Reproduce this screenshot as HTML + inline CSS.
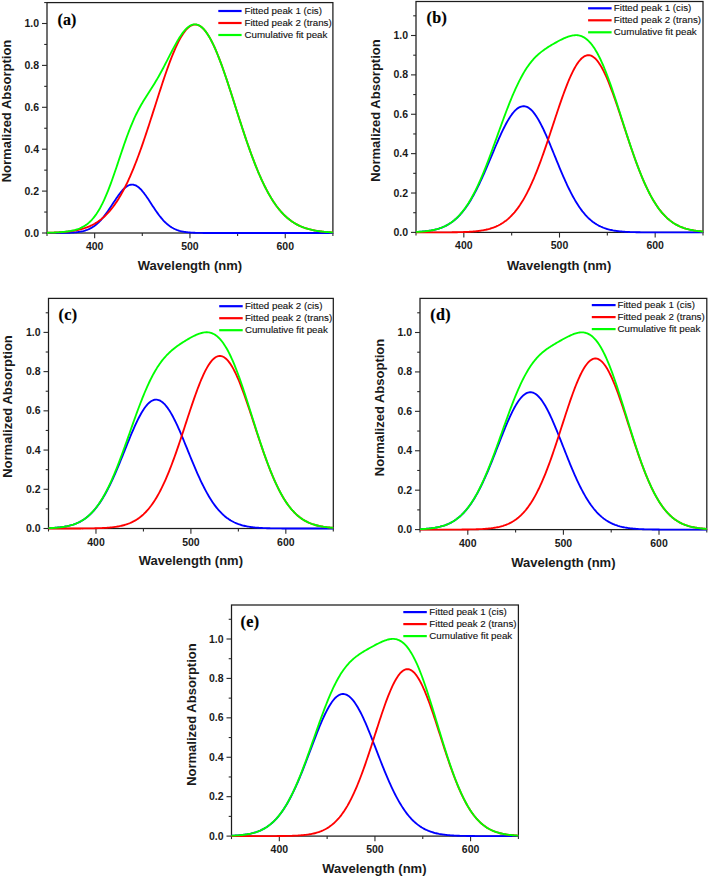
<!DOCTYPE html>
<html><head><meta charset="utf-8"><title>Fitted absorption peaks</title>
<style>
html,body{margin:0;padding:0;background:#fff;}
svg{display:block;}
.tk{font-family:"Liberation Sans",sans-serif;font-weight:bold;font-size:10.5px;fill:#1a1a1a;}
.ti{font-family:"Liberation Sans",sans-serif;font-weight:bold;font-size:13px;fill:#1a1a1a;}
.lg{font-family:"Liberation Sans",sans-serif;font-size:9.75px;fill:#111;stroke:#111;stroke-width:0.12px;}
.pl{font-family:"Liberation Serif",serif;font-weight:bold;font-size:16px;fill:#000;stroke:#000;stroke-width:0.15px;}
.pl2{letter-spacing:0.4px;stroke-width:0.2px;}
</style></head><body>
<svg width="708" height="877" viewBox="0 0 708 877">
<rect width="708" height="877" fill="#fff"/>
<rect x="47" y="2.6" width="285.9" height="230.4" fill="none" stroke="#1c1c1c" stroke-width="1.25"/>
<line x1="42" y1="233" x2="47" y2="233" stroke="#2a2a2a" stroke-width="1.1"/>
<text x="39.1" y="236.5" class="tk" text-anchor="end">0.0</text>
<line x1="44.2" y1="212.05" x2="47" y2="212.05" stroke="#2a2a2a" stroke-width="1.1"/>
<line x1="42" y1="191.1" x2="47" y2="191.1" stroke="#2a2a2a" stroke-width="1.1"/>
<text x="39.1" y="194.6" class="tk" text-anchor="end">0.2</text>
<line x1="44.2" y1="170.15" x2="47" y2="170.15" stroke="#2a2a2a" stroke-width="1.1"/>
<line x1="42" y1="149.2" x2="47" y2="149.2" stroke="#2a2a2a" stroke-width="1.1"/>
<text x="39.1" y="152.7" class="tk" text-anchor="end">0.4</text>
<line x1="44.2" y1="128.25" x2="47" y2="128.25" stroke="#2a2a2a" stroke-width="1.1"/>
<line x1="42" y1="107.3" x2="47" y2="107.3" stroke="#2a2a2a" stroke-width="1.1"/>
<text x="39.1" y="110.8" class="tk" text-anchor="end">0.6</text>
<line x1="44.2" y1="86.35" x2="47" y2="86.35" stroke="#2a2a2a" stroke-width="1.1"/>
<line x1="42" y1="65.4" x2="47" y2="65.4" stroke="#2a2a2a" stroke-width="1.1"/>
<text x="39.1" y="68.9" class="tk" text-anchor="end">0.8</text>
<line x1="44.2" y1="44.45" x2="47" y2="44.45" stroke="#2a2a2a" stroke-width="1.1"/>
<line x1="42" y1="23.5" x2="47" y2="23.5" stroke="#2a2a2a" stroke-width="1.1"/>
<text x="39.1" y="27" class="tk" text-anchor="end">1.0</text>
<line x1="44.2" y1="2.55" x2="47" y2="2.55" stroke="#2a2a2a" stroke-width="1.1"/>
<line x1="47" y1="233" x2="47" y2="236" stroke="#2a2a2a" stroke-width="1.1"/>
<line x1="94.65" y1="233" x2="94.65" y2="238.2" stroke="#2a2a2a" stroke-width="1.1"/>
<text x="94.65" y="250" class="tk" text-anchor="middle">400</text>
<line x1="142.3" y1="233" x2="142.3" y2="236" stroke="#2a2a2a" stroke-width="1.1"/>
<line x1="189.95" y1="233" x2="189.95" y2="238.2" stroke="#2a2a2a" stroke-width="1.1"/>
<text x="189.95" y="250" class="tk" text-anchor="middle">500</text>
<line x1="237.6" y1="233" x2="237.6" y2="236" stroke="#2a2a2a" stroke-width="1.1"/>
<line x1="285.25" y1="233" x2="285.25" y2="238.2" stroke="#2a2a2a" stroke-width="1.1"/>
<text x="285.25" y="250" class="tk" text-anchor="middle">600</text>
<line x1="332.9" y1="233" x2="332.9" y2="236" stroke="#2a2a2a" stroke-width="1.1"/>
<text x="189.95" y="269.7" class="ti" text-anchor="middle">Wavelength (nm)</text>
<text transform="translate(10.9,111) rotate(-90)" class="ti" text-anchor="middle">Normalized Absorption</text>
<polyline points="47,233 47.95,233 48.91,233 49.86,232.99 50.81,232.99 51.77,232.99 52.72,232.99 53.67,232.99 54.62,232.99 55.58,232.98 56.53,232.98 57.48,232.97 58.44,232.97 59.39,232.96 60.34,232.95 61.3,232.94 62.25,232.93 63.2,232.92 64.15,232.9 65.11,232.89 66.06,232.87 67.01,232.84 67.97,232.81 68.92,232.78 69.87,232.74 70.83,232.69 71.78,232.64 72.73,232.58 73.68,232.52 74.64,232.44 75.59,232.35 76.54,232.25 77.5,232.13 78.45,232 79.4,231.86 80.35,231.69 81.31,231.51 82.26,231.31 83.21,231.08 84.17,230.82 85.12,230.54 86.07,230.22 87.03,229.88 87.98,229.5 88.93,229.08 89.88,228.63 90.84,228.14 91.79,227.6 92.74,227.01 93.7,226.39 94.65,225.71 95.6,224.98 96.56,224.2 97.51,223.37 98.46,222.49 99.41,221.55 100.37,220.56 101.32,219.52 102.27,218.43 103.23,217.29 104.18,216.1 105.13,214.86 106.09,213.58 107.04,212.27 107.99,210.91 108.94,209.53 109.9,208.12 110.85,206.69 111.8,205.24 112.76,203.79 113.71,202.34 114.66,200.89 115.62,199.46 116.57,198.05 117.52,196.67 118.47,195.33 119.43,194.04 120.38,192.79 121.33,191.61 122.29,190.5 123.24,189.47 124.19,188.52 125.15,187.66 126.1,186.9 127.05,186.24 128,185.69 128.96,185.25 129.91,184.92 130.86,184.71 131.82,184.61 132.77,184.64 133.72,184.78 134.68,185.04 135.63,185.43 136.58,185.92 137.53,186.53 138.49,187.25 139.44,188.06 140.39,188.97 141.35,189.98 142.3,191.06 143.25,192.22 144.21,193.44 145.16,194.73 146.11,196.06 147.06,197.44 148.02,198.85 148.97,200.29 149.92,201.74 150.88,203.21 151.83,204.67 152.78,206.14 153.74,207.59 154.69,209.02 155.64,210.43 156.59,211.8 157.55,213.15 158.5,214.45 159.45,215.72 160.41,216.93 161.36,218.1 162.31,219.22 163.27,220.29 164.22,221.3 165.17,222.26 166.12,223.16 167.08,224.01 168.03,224.81 168.98,225.56 169.94,226.25 170.89,226.9 171.84,227.49 172.8,228.05 173.75,228.55 174.7,229.02 175.66,229.44 176.61,229.83 177.56,230.18 178.51,230.5 179.47,230.79 180.42,231.05 181.37,231.29 182.33,231.5 183.28,231.68 184.23,231.85 185.19,232 186.14,232.13 187.09,232.25 188.04,232.35 189,232.44 189.95,232.52 190.9,232.58 191.86,232.64 192.81,232.7 193.76,232.74 194.72,232.78 195.67,232.81 196.62,232.84 197.57,232.87 198.53,232.89 199.48,232.91 200.43,232.92 201.39,232.93 202.34,232.95 203.29,232.95 204.25,232.96 205.2,232.97 206.15,232.97 207.1,232.98 208.06,232.98 209.01,232.99 209.96,232.99 210.92,232.99 211.87,232.99 212.82,232.99 213.78,233 214.73,233 215.68,233 216.63,233 217.59,233 218.54,233 219.49,233 220.45,233 221.4,233 222.35,233 223.3,233 224.26,233 225.21,233 226.16,233 227.12,233 228.07,233 229.02,233 229.98,233 230.93,233 231.88,233 232.83,233 233.79,233 234.74,233 235.69,233 236.65,233 237.6,233 238.55,233 239.51,233 240.46,233 241.41,233 242.36,233 243.32,233 244.27,233 245.22,233 246.18,233 247.13,233 248.08,233 249.04,233 249.99,233 250.94,233 251.89,233 252.85,233 253.8,233 254.75,233 255.71,233 256.66,233 257.61,233 258.57,233 259.52,233 260.47,233 261.42,233 262.38,233 263.33,233 264.28,233 265.24,233 266.19,233 267.14,233 268.1,233 269.05,233 270,233 270.95,233 271.91,233 272.86,233 273.81,233 274.77,233 275.72,233 276.67,233 277.63,233 278.58,233 279.53,233 280.49,233 281.44,233 282.39,233 283.34,233 284.3,233 285.25,233 286.2,233 287.16,233 288.11,233 289.06,233 290.01,233 290.97,233 291.92,233 292.87,233 293.83,233 294.78,233 295.73,233 296.69,233 297.64,233 298.59,233 299.54,233 300.5,233 301.45,233 302.4,233 303.36,233 304.31,233 305.26,233 306.22,233 307.17,233 308.12,233 309.07,233 310.03,233 310.98,233 311.93,233 312.89,233 313.84,233 314.79,233 315.75,233 316.7,233 317.65,233 318.6,233 319.56,233 320.51,233 321.46,233 322.42,233 323.37,233 324.32,233 325.28,233 326.23,233 327.18,233 328.13,233 329.09,233 330.04,233 330.99,233 331.95,233 332.9,233" fill="none" stroke="#0000ff" stroke-width="1.85" stroke-linejoin="round"/>
<polyline points="47,232.76 47.95,232.74 48.91,232.71 49.86,232.69 50.81,232.66 51.77,232.63 52.72,232.6 53.67,232.56 54.62,232.52 55.58,232.48 56.53,232.44 57.48,232.39 58.44,232.34 59.39,232.28 60.34,232.23 61.3,232.16 62.25,232.09 63.2,232.02 64.15,231.94 65.11,231.86 66.06,231.77 67.01,231.67 67.97,231.57 68.92,231.46 69.87,231.34 70.83,231.21 71.78,231.08 72.73,230.93 73.68,230.78 74.64,230.62 75.59,230.44 76.54,230.26 77.5,230.06 78.45,229.85 79.4,229.63 80.35,229.4 81.31,229.15 82.26,228.88 83.21,228.6 84.17,228.3 85.12,227.99 86.07,227.65 87.03,227.3 87.98,226.93 88.93,226.54 89.88,226.13 90.84,225.69 91.79,225.23 92.74,224.75 93.7,224.24 94.65,223.71 95.6,223.14 96.56,222.55 97.51,221.93 98.46,221.29 99.41,220.61 100.37,219.89 101.32,219.15 102.27,218.37 103.23,217.55 104.18,216.7 105.13,215.81 106.09,214.88 107.04,213.92 107.99,212.91 108.94,211.86 109.9,210.77 110.85,209.64 111.8,208.46 112.76,207.24 113.71,205.97 114.66,204.66 115.62,203.29 116.57,201.88 117.52,200.42 118.47,198.91 119.43,197.36 120.38,195.75 121.33,194.09 122.29,192.38 123.24,190.61 124.19,188.8 125.15,186.93 126.1,185.01 127.05,183.04 128,181.02 128.96,178.95 129.91,176.82 130.86,174.65 131.82,172.42 132.77,170.14 133.72,167.82 134.68,165.45 135.63,163.02 136.58,160.56 137.53,158.04 138.49,155.49 139.44,152.89 140.39,150.25 141.35,147.57 142.3,144.86 143.25,142.11 144.21,139.32 145.16,136.5 146.11,133.66 147.06,130.79 148.02,127.89 148.97,124.97 149.92,122.03 150.88,119.08 151.83,116.11 152.78,113.14 153.74,110.15 154.69,107.16 155.64,104.18 156.59,101.19 157.55,98.21 158.5,95.24 159.45,92.28 160.41,89.34 161.36,86.42 162.31,83.53 163.27,80.66 164.22,77.83 165.17,75.03 166.12,72.26 167.08,69.55 168.03,66.88 168.98,64.26 169.94,61.69 170.89,59.18 171.84,56.74 172.8,54.36 173.75,52.05 174.7,49.81 175.66,47.64 176.61,45.56 177.56,43.56 178.51,41.64 179.47,39.82 180.42,38.08 181.37,36.44 182.33,34.9 183.28,33.45 184.23,32.11 185.19,30.87 186.14,29.74 187.09,28.71 188.04,27.8 189,26.99 189.95,26.3 190.9,25.72 191.86,25.26 192.81,24.91 193.76,24.68 194.72,24.56 195.67,24.56 196.62,24.68 197.57,24.91 198.53,25.26 199.48,25.73 200.43,26.31 201.39,27.01 202.34,27.81 203.29,28.73 204.25,29.76 205.2,30.9 206.15,32.15 207.1,33.49 208.06,34.95 209.01,36.5 209.96,38.14 210.92,39.89 211.87,41.72 212.82,43.65 213.78,45.66 214.73,47.75 215.68,49.92 216.63,52.17 217.59,54.49 218.54,56.88 219.49,59.33 220.45,61.85 221.4,64.42 222.35,67.05 223.3,69.74 224.26,72.46 225.21,75.23 226.16,78.04 227.12,80.89 228.07,83.76 229.02,86.67 229.98,89.6 230.93,92.55 231.88,95.51 232.83,98.49 233.79,101.48 234.74,104.47 235.69,107.47 236.65,110.46 237.6,113.45 238.55,116.43 239.51,119.41 240.46,122.37 241.41,125.31 242.36,128.23 243.32,131.13 244.27,134.01 245.22,136.86 246.18,139.68 247.13,142.46 248.08,145.22 249.04,147.93 249.99,150.61 250.94,153.25 251.89,155.85 252.85,158.41 253.8,160.92 254.75,163.39 255.71,165.81 256.66,168.18 257.61,170.5 258.57,172.77 259.52,175 260.47,177.17 261.42,179.29 262.38,181.36 263.33,183.38 264.28,185.35 265.24,187.26 266.19,189.12 267.14,190.93 268.1,192.69 269.05,194.4 270,196.05 270.95,197.65 271.91,199.21 272.86,200.71 273.81,202.16 274.77,203.57 275.72,204.92 276.67,206.23 277.63,207.49 278.58,208.71 279.53,209.88 280.49,211.01 281.44,212.09 282.39,213.13 283.34,214.13 284.3,215.09 285.25,216.01 286.2,216.9 287.16,217.74 288.11,218.55 289.06,219.32 290.01,220.06 290.97,220.77 291.92,221.44 292.87,222.09 293.83,222.7 294.78,223.28 295.73,223.84 296.69,224.37 297.64,224.87 298.59,225.35 299.54,225.81 300.5,226.24 301.45,226.65 302.4,227.03 303.36,227.4 304.31,227.75 305.26,228.08 306.22,228.39 307.17,228.68 308.12,228.96 309.07,229.22 310.03,229.46 310.98,229.7 311.93,229.92 312.89,230.12 313.84,230.31 314.79,230.5 315.75,230.67 316.7,230.83 317.65,230.98 318.6,231.12 319.56,231.25 320.51,231.38 321.46,231.49 322.42,231.6 323.37,231.7 324.32,231.8 325.28,231.89 326.23,231.97 327.18,232.04 328.13,232.12 329.09,232.18 330.04,232.25 330.99,232.3 331.95,232.36 332.9,232.41" fill="none" stroke="#ff0000" stroke-width="1.85" stroke-linejoin="round"/>
<polyline points="47,232.75 47.95,232.73 48.91,232.71 49.86,232.68 50.81,232.65 51.77,232.62 52.72,232.59 53.67,232.55 54.62,232.51 55.58,232.46 56.53,232.42 57.48,232.36 58.44,232.31 59.39,232.25 60.34,232.18 61.3,232.11 62.25,232.03 63.2,231.94 64.15,231.85 65.11,231.74 66.06,231.63 67.01,231.51 67.97,231.38 68.92,231.24 69.87,231.08 70.83,230.91 71.78,230.72 72.73,230.52 73.68,230.3 74.64,230.06 75.59,229.79 76.54,229.51 77.5,229.2 78.45,228.86 79.4,228.49 80.35,228.09 81.31,227.66 82.26,227.19 83.21,226.68 84.17,226.12 85.12,225.53 86.07,224.88 87.03,224.18 87.98,223.43 88.93,222.62 89.88,221.76 90.84,220.83 91.79,219.83 92.74,218.76 93.7,217.63 94.65,216.41 95.6,215.12 96.56,213.76 97.51,212.31 98.46,210.77 99.41,209.16 100.37,207.46 101.32,205.67 102.27,203.8 103.23,201.84 104.18,199.8 105.13,197.67 106.09,195.47 107.04,193.18 107.99,190.82 108.94,188.39 109.9,185.89 110.85,183.33 111.8,180.71 112.76,178.03 113.71,175.31 114.66,172.55 115.62,169.76 116.57,166.94 117.52,164.1 118.47,161.25 119.43,158.39 120.38,155.54 121.33,152.7 122.29,149.88 123.24,147.09 124.19,144.32 125.15,141.6 126.1,138.92 127.05,136.29 128,133.71 128.96,131.2 129.91,128.74 130.86,126.35 131.82,124.03 132.77,121.78 133.72,119.6 134.68,117.49 135.63,115.45 136.58,113.48 137.53,111.58 138.49,109.74 139.44,107.95 140.39,106.23 141.35,104.55 142.3,102.92 143.25,101.32 144.21,99.76 145.16,98.23 146.11,96.72 147.06,95.22 148.02,93.74 148.97,92.26 149.92,90.78 150.88,89.29 151.83,87.79 152.78,86.27 153.74,84.74 154.69,83.18 155.64,81.6 156.59,80 157.55,78.36 158.5,76.69 159.45,75 160.41,73.28 161.36,71.52 162.31,69.75 163.27,67.95 164.22,66.12 165.17,64.28 166.12,62.43 167.08,60.56 168.03,58.69 168.98,56.81 169.94,54.94 170.89,53.08 171.84,51.23 172.8,49.4 173.75,47.6 174.7,45.83 175.66,44.09 176.61,42.39 177.56,40.74 178.51,39.15 179.47,37.61 180.42,36.14 181.37,34.73 182.33,33.39 183.28,32.14 184.23,30.96 185.19,29.87 186.14,28.87 187.09,27.96 188.04,27.15 189,26.43 189.95,25.82 190.9,25.31 191.86,24.9 192.81,24.61 193.76,24.42 194.72,24.34 195.67,24.38 196.62,24.52 197.57,24.78 198.53,25.15 199.48,25.64 200.43,26.23 201.39,26.94 202.34,27.76 203.29,28.69 204.25,29.73 205.2,30.87 206.15,32.12 207.1,33.47 208.06,34.93 209.01,36.48 209.96,38.13 210.92,39.88 211.87,41.71 212.82,43.64 213.78,45.65 214.73,47.74 215.68,49.92 216.63,52.16 217.59,54.49 218.54,56.88 219.49,59.33 220.45,61.85 221.4,64.42 222.35,67.05 223.3,69.73 224.26,72.46 225.21,75.23 226.16,78.04 227.12,80.89 228.07,83.76 229.02,86.67 229.98,89.6 230.93,92.55 231.88,95.51 232.83,98.49 233.79,101.48 234.74,104.47 235.69,107.47 236.65,110.46 237.6,113.45 238.55,116.43 239.51,119.41 240.46,122.37 241.41,125.31 242.36,128.23 243.32,131.13 244.27,134.01 245.22,136.86 246.18,139.68 247.13,142.46 248.08,145.22 249.04,147.93 249.99,150.61 250.94,153.25 251.89,155.85 252.85,158.41 253.8,160.92 254.75,163.39 255.71,165.81 256.66,168.18 257.61,170.5 258.57,172.77 259.52,175 260.47,177.17 261.42,179.29 262.38,181.36 263.33,183.38 264.28,185.35 265.24,187.26 266.19,189.12 267.14,190.93 268.1,192.69 269.05,194.4 270,196.05 270.95,197.65 271.91,199.21 272.86,200.71 273.81,202.16 274.77,203.57 275.72,204.92 276.67,206.23 277.63,207.49 278.58,208.71 279.53,209.88 280.49,211.01 281.44,212.09 282.39,213.13 283.34,214.13 284.3,215.09 285.25,216.01 286.2,216.9 287.16,217.74 288.11,218.55 289.06,219.32 290.01,220.06 290.97,220.77 291.92,221.44 292.87,222.09 293.83,222.7 294.78,223.28 295.73,223.84 296.69,224.37 297.64,224.87 298.59,225.35 299.54,225.81 300.5,226.24 301.45,226.65 302.4,227.03 303.36,227.4 304.31,227.75 305.26,228.08 306.22,228.39 307.17,228.68 308.12,228.96 309.07,229.22 310.03,229.46 310.98,229.7 311.93,229.92 312.89,230.12 313.84,230.31 314.79,230.5 315.75,230.67 316.7,230.83 317.65,230.98 318.6,231.12 319.56,231.25 320.51,231.38 321.46,231.49 322.42,231.6 323.37,231.7 324.32,231.8 325.28,231.89 326.23,231.97 327.18,232.04 328.13,232.12 329.09,232.18 330.04,232.25 330.99,232.3 331.95,232.36 332.9,232.41" fill="none" stroke="#00ff00" stroke-width="1.85" stroke-linejoin="round"/>
<line x1="218.3" y1="11" x2="241.6" y2="11" stroke="#0000ff" stroke-width="2.2"/>
<text x="244.5" y="13.9" class="lg">Fitted peak 1 (cis)</text>
<line x1="218.3" y1="23" x2="241.6" y2="23" stroke="#ff0000" stroke-width="2.2"/>
<text x="244.5" y="25.9" class="lg">Fitted peak 2 (trans)</text>
<line x1="218.3" y1="35" x2="241.6" y2="35" stroke="#00ff00" stroke-width="2.2"/>
<text x="244.5" y="37.9" class="lg">Cumulative fit peak</text>
<text x="57.6" y="25.1" class="pl">(a)</text>
<rect x="416" y="1.5" width="287" height="230.9" fill="none" stroke="#1c1c1c" stroke-width="1.25"/>
<line x1="411" y1="232.4" x2="416" y2="232.4" stroke="#2a2a2a" stroke-width="1.1"/>
<text x="408.1" y="235.9" class="tk" text-anchor="end">0.0</text>
<line x1="413.2" y1="212.71" x2="416" y2="212.71" stroke="#2a2a2a" stroke-width="1.1"/>
<line x1="411" y1="193.02" x2="416" y2="193.02" stroke="#2a2a2a" stroke-width="1.1"/>
<text x="408.1" y="196.52" class="tk" text-anchor="end">0.2</text>
<line x1="413.2" y1="173.33" x2="416" y2="173.33" stroke="#2a2a2a" stroke-width="1.1"/>
<line x1="411" y1="153.64" x2="416" y2="153.64" stroke="#2a2a2a" stroke-width="1.1"/>
<text x="408.1" y="157.14" class="tk" text-anchor="end">0.4</text>
<line x1="413.2" y1="133.95" x2="416" y2="133.95" stroke="#2a2a2a" stroke-width="1.1"/>
<line x1="411" y1="114.26" x2="416" y2="114.26" stroke="#2a2a2a" stroke-width="1.1"/>
<text x="408.1" y="117.76" class="tk" text-anchor="end">0.6</text>
<line x1="413.2" y1="94.57" x2="416" y2="94.57" stroke="#2a2a2a" stroke-width="1.1"/>
<line x1="411" y1="74.88" x2="416" y2="74.88" stroke="#2a2a2a" stroke-width="1.1"/>
<text x="408.1" y="78.38" class="tk" text-anchor="end">0.8</text>
<line x1="413.2" y1="55.19" x2="416" y2="55.19" stroke="#2a2a2a" stroke-width="1.1"/>
<line x1="411" y1="35.5" x2="416" y2="35.5" stroke="#2a2a2a" stroke-width="1.1"/>
<text x="408.1" y="39" class="tk" text-anchor="end">1.0</text>
<line x1="413.2" y1="15.81" x2="416" y2="15.81" stroke="#2a2a2a" stroke-width="1.1"/>
<line x1="416" y1="232.4" x2="416" y2="235.4" stroke="#2a2a2a" stroke-width="1.1"/>
<line x1="463.83" y1="232.4" x2="463.83" y2="237.6" stroke="#2a2a2a" stroke-width="1.1"/>
<text x="463.83" y="249.4" class="tk" text-anchor="middle">400</text>
<line x1="511.67" y1="232.4" x2="511.67" y2="235.4" stroke="#2a2a2a" stroke-width="1.1"/>
<line x1="559.5" y1="232.4" x2="559.5" y2="237.6" stroke="#2a2a2a" stroke-width="1.1"/>
<text x="559.5" y="249.4" class="tk" text-anchor="middle">500</text>
<line x1="607.33" y1="232.4" x2="607.33" y2="235.4" stroke="#2a2a2a" stroke-width="1.1"/>
<line x1="655.17" y1="232.4" x2="655.17" y2="237.6" stroke="#2a2a2a" stroke-width="1.1"/>
<text x="655.17" y="249.4" class="tk" text-anchor="middle">600</text>
<line x1="703" y1="232.4" x2="703" y2="235.4" stroke="#2a2a2a" stroke-width="1.1"/>
<text x="559.1" y="269.6" class="ti" text-anchor="middle">Wavelength (nm)</text>
<text transform="translate(380.1,110.6) rotate(-90)" class="ti" text-anchor="middle">Normalized Absorption</text>
<polyline points="416,231.95 416.96,231.9 417.91,231.85 418.87,231.8 419.83,231.73 420.78,231.67 421.74,231.59 422.7,231.51 423.65,231.43 424.61,231.33 425.57,231.23 426.52,231.12 427.48,231 428.44,230.87 429.39,230.73 430.35,230.57 431.31,230.41 432.26,230.23 433.22,230.04 434.18,229.83 435.13,229.61 436.09,229.37 437.05,229.12 438,228.84 438.96,228.55 439.92,228.23 440.87,227.9 441.83,227.54 442.79,227.16 443.74,226.75 444.7,226.32 445.66,225.86 446.61,225.37 447.57,224.85 448.53,224.29 449.48,223.71 450.44,223.09 451.4,222.44 452.35,221.75 453.31,221.03 454.27,220.26 455.22,219.46 456.18,218.62 457.14,217.73 458.09,216.8 459.05,215.82 460.01,214.8 460.96,213.74 461.92,212.62 462.88,211.46 463.83,210.26 464.79,209 465.75,207.69 466.7,206.33 467.66,204.93 468.62,203.47 469.57,201.96 470.53,200.4 471.49,198.8 472.44,197.14 473.4,195.44 474.36,193.68 475.31,191.88 476.27,190.04 477.23,188.15 478.18,186.21 479.14,184.24 480.1,182.22 481.05,180.17 482.01,178.08 482.97,175.96 483.92,173.8 484.88,171.62 485.84,169.42 486.79,167.19 487.75,164.95 488.71,162.69 489.66,160.41 490.62,158.13 491.58,155.85 492.53,153.56 493.49,151.28 494.45,149.01 495.4,146.75 496.36,144.51 497.32,142.29 498.27,140.1 499.23,137.93 500.19,135.8 501.14,133.72 502.1,131.67 503.06,129.68 504.01,127.74 504.97,125.86 505.93,124.04 506.88,122.28 507.84,120.6 508.8,119 509.75,117.47 510.71,116.03 511.67,114.67 512.62,113.41 513.58,112.24 514.54,111.16 515.49,110.19 516.45,109.31 517.41,108.54 518.36,107.88 519.32,107.32 520.28,106.87 521.23,106.54 522.19,106.31 523.15,106.2 524.1,106.2 525.06,106.32 526.02,106.56 526.97,106.92 527.93,107.39 528.89,107.98 529.84,108.69 530.8,109.5 531.76,110.43 532.71,111.47 533.67,112.61 534.63,113.85 535.58,115.19 536.54,116.62 537.5,118.14 538.45,119.75 539.41,121.45 540.37,123.22 541.32,125.06 542.28,126.98 543.24,128.96 544.19,130.99 545.15,133.08 546.11,135.22 547.06,137.4 548.02,139.63 548.98,141.88 549.93,144.17 550.89,146.48 551.85,148.8 552.8,151.14 553.76,153.49 554.72,155.85 555.67,158.2 556.63,160.55 557.59,162.89 558.54,165.22 559.5,167.54 560.46,169.83 561.41,172.1 562.37,174.34 563.33,176.55 564.28,178.73 565.24,180.87 566.2,182.97 567.15,185.03 568.11,187.05 569.07,189.02 570.02,190.95 570.98,192.83 571.94,194.66 572.89,196.44 573.85,198.17 574.81,199.84 575.76,201.46 576.72,203.03 577.68,204.55 578.63,206.01 579.59,207.42 580.55,208.78 581.5,210.08 582.46,211.34 583.42,212.54 584.37,213.69 585.33,214.79 586.29,215.84 587.24,216.84 588.2,217.8 589.16,218.71 590.11,219.57 591.07,220.4 592.03,221.18 592.98,221.92 593.94,222.62 594.9,223.28 595.85,223.9 596.81,224.49 597.77,225.05 598.72,225.57 599.68,226.06 600.64,226.53 601.59,226.96 602.55,227.37 603.51,227.75 604.46,228.1 605.42,228.44 606.38,228.75 607.33,229.03 608.29,229.3 609.25,229.55 610.2,229.79 611.16,230 612.12,230.2 613.07,230.39 614.03,230.56 614.99,230.72 615.94,230.86 616.9,231 617.86,231.12 618.81,231.24 619.77,231.34 620.73,231.44 621.68,231.53 622.64,231.61 623.6,231.68 624.55,231.75 625.51,231.81 626.47,231.87 627.42,231.92 628.38,231.97 629.34,232.01 630.29,232.05 631.25,232.08 632.21,232.12 633.16,232.15 634.12,232.17 635.08,232.2 636.03,232.22 636.99,232.24 637.95,232.25 638.9,232.27 639.86,232.28 640.82,232.3 641.77,232.31 642.73,232.32 643.69,232.33 644.64,232.34 645.6,232.34 646.56,232.35 647.51,232.35 648.47,232.36 649.43,232.36 650.38,232.37 651.34,232.37 652.3,232.38 653.25,232.38 654.21,232.38 655.17,232.38 656.12,232.39 657.08,232.39 658.04,232.39 658.99,232.39 659.95,232.39 660.91,232.39 661.86,232.39 662.82,232.39 663.78,232.4 664.73,232.4 665.69,232.4 666.65,232.4 667.6,232.4 668.56,232.4 669.52,232.4 670.47,232.4 671.43,232.4 672.39,232.4 673.34,232.4 674.3,232.4 675.26,232.4 676.21,232.4 677.17,232.4 678.13,232.4 679.08,232.4 680.04,232.4 681,232.4 681.95,232.4 682.91,232.4 683.87,232.4 684.82,232.4 685.78,232.4 686.74,232.4 687.69,232.4 688.65,232.4 689.61,232.4 690.56,232.4 691.52,232.4 692.48,232.4 693.43,232.4 694.39,232.4 695.35,232.4 696.3,232.4 697.26,232.4 698.22,232.4 699.17,232.4 700.13,232.4 701.09,232.4 702.04,232.4 703,232.4" fill="none" stroke="#0000ff" stroke-width="1.85" stroke-linejoin="round"/>
<polyline points="416,232.4 416.96,232.4 417.91,232.4 418.87,232.4 419.83,232.4 420.78,232.4 421.74,232.4 422.7,232.4 423.65,232.4 424.61,232.4 425.57,232.4 426.52,232.39 427.48,232.39 428.44,232.39 429.39,232.39 430.35,232.39 431.31,232.39 432.26,232.39 433.22,232.39 434.18,232.39 435.13,232.38 436.09,232.38 437.05,232.38 438,232.38 438.96,232.38 439.92,232.37 440.87,232.37 441.83,232.37 442.79,232.36 443.74,232.36 444.7,232.35 445.66,232.35 446.61,232.34 447.57,232.34 448.53,232.33 449.48,232.32 450.44,232.31 451.4,232.3 452.35,232.29 453.31,232.28 454.27,232.26 455.22,232.25 456.18,232.23 457.14,232.22 458.09,232.2 459.05,232.18 460.01,232.15 460.96,232.13 461.92,232.1 462.88,232.07 463.83,232.04 464.79,232 465.75,231.96 466.7,231.92 467.66,231.87 468.62,231.82 469.57,231.77 470.53,231.71 471.49,231.64 472.44,231.57 473.4,231.49 474.36,231.41 475.31,231.32 476.27,231.23 477.23,231.12 478.18,231.01 479.14,230.89 480.1,230.76 481.05,230.61 482.01,230.46 482.97,230.3 483.92,230.12 484.88,229.94 485.84,229.74 486.79,229.52 487.75,229.29 488.71,229.04 489.66,228.78 490.62,228.49 491.58,228.19 492.53,227.87 493.49,227.53 494.45,227.17 495.4,226.78 496.36,226.37 497.32,225.93 498.27,225.47 499.23,224.97 500.19,224.45 501.14,223.9 502.1,223.32 503.06,222.71 504.01,222.06 504.97,221.37 505.93,220.65 506.88,219.9 507.84,219.1 508.8,218.26 509.75,217.38 510.71,216.45 511.67,215.49 512.62,214.47 513.58,213.41 514.54,212.3 515.49,211.14 516.45,209.94 517.41,208.68 518.36,207.36 519.32,206 520.28,204.58 521.23,203.1 522.19,201.57 523.15,199.99 524.1,198.34 525.06,196.64 526.02,194.89 526.97,193.07 527.93,191.2 528.89,189.27 529.84,187.28 530.8,185.23 531.76,183.13 532.71,180.97 533.67,178.76 534.63,176.49 535.58,174.17 536.54,171.79 537.5,169.37 538.45,166.89 539.41,164.37 540.37,161.81 541.32,159.2 542.28,156.55 543.24,153.86 544.19,151.13 545.15,148.37 546.11,145.58 547.06,142.77 548.02,139.93 548.98,137.07 549.93,134.19 550.89,131.3 551.85,128.4 552.8,125.5 553.76,122.59 554.72,119.69 555.67,116.8 556.63,113.92 557.59,111.05 558.54,108.21 559.5,105.39 560.46,102.61 561.41,99.86 562.37,97.15 563.33,94.49 564.28,91.87 565.24,89.31 566.2,86.82 567.15,84.38 568.11,82.02 569.07,79.73 570.02,77.51 570.98,75.38 571.94,73.34 572.89,71.39 573.85,69.53 574.81,67.77 575.76,66.12 576.72,64.57 577.68,63.13 578.63,61.8 579.59,60.58 580.55,59.49 581.5,58.51 582.46,57.66 583.42,56.93 584.37,56.33 585.33,55.85 586.29,55.5 587.24,55.28 588.2,55.19 589.16,55.23 590.11,55.4 591.07,55.71 592.03,56.14 592.98,56.7 593.94,57.39 594.9,58.21 595.85,59.15 596.81,60.21 597.77,61.4 598.72,62.7 599.68,64.12 600.64,65.65 601.59,67.29 602.55,69.03 603.51,70.87 604.46,72.82 605.42,74.85 606.38,76.98 607.33,79.19 608.29,81.48 609.25,83.85 610.2,86.29 611.16,88.8 612.12,91.36 613.07,93.99 614.03,96.66 614.99,99.39 615.94,102.15 616.9,104.96 617.86,107.79 618.81,110.65 619.77,113.54 620.73,116.44 621.68,119.36 622.64,122.28 623.6,125.21 624.55,128.14 625.51,131.06 626.47,133.97 627.42,136.88 628.38,139.76 629.34,142.62 630.29,145.46 631.25,148.28 632.21,151.06 633.16,153.81 634.12,156.52 635.08,159.19 636.03,161.82 636.99,164.41 637.95,166.95 638.9,169.45 639.86,171.89 640.82,174.28 641.77,176.62 642.73,178.9 643.69,181.13 644.64,183.3 645.6,185.42 646.56,187.47 647.51,189.47 648.47,191.41 649.43,193.29 650.38,195.12 651.34,196.88 652.3,198.59 653.25,200.24 654.21,201.83 655.17,203.36 656.12,204.84 657.08,206.26 658.04,207.62 658.99,208.94 659.95,210.2 660.91,211.4 661.86,212.56 662.82,213.67 663.78,214.72 664.73,215.73 665.69,216.7 666.65,217.62 667.6,218.49 668.56,219.33 669.52,220.12 670.47,220.88 671.43,221.59 672.39,222.27 673.34,222.91 674.3,223.52 675.26,224.1 676.21,224.64 677.17,225.15 678.13,225.64 679.08,226.1 680.04,226.53 681,226.93 681.95,227.31 682.91,227.67 683.87,228.01 684.82,228.32 685.78,228.62 686.74,228.89 687.69,229.15 688.65,229.4 689.61,229.62 690.56,229.83 691.52,230.03 692.48,230.21 693.43,230.38 694.39,230.54 695.35,230.69 696.3,230.83 697.26,230.95 698.22,231.07 699.17,231.18 700.13,231.28 701.09,231.37 702.04,231.46 703,231.54" fill="none" stroke="#ff0000" stroke-width="1.85" stroke-linejoin="round"/>
<polyline points="416,231.95 416.96,231.9 417.91,231.85 418.87,231.79 419.83,231.73 420.78,231.66 421.74,231.59 422.7,231.51 423.65,231.42 424.61,231.33 425.57,231.23 426.52,231.11 427.48,230.99 428.44,230.86 429.39,230.72 430.35,230.56 431.31,230.4 432.26,230.22 433.22,230.03 434.18,229.82 435.13,229.6 436.09,229.36 437.05,229.1 438,228.82 438.96,228.52 439.92,228.21 440.87,227.87 441.83,227.51 442.79,227.12 443.74,226.71 444.7,226.27 445.66,225.8 446.61,225.31 447.57,224.78 448.53,224.22 449.48,223.63 450.44,223.01 451.4,222.34 452.35,221.64 453.31,220.91 454.27,220.13 455.22,219.31 456.18,218.45 457.14,217.55 458.09,216.6 459.05,215.6 460.01,214.56 460.96,213.47 461.92,212.33 462.88,211.13 463.83,209.89 464.79,208.6 465.75,207.25 466.7,205.85 467.66,204.4 468.62,202.89 469.57,201.33 470.53,199.71 471.49,198.04 472.44,196.31 473.4,194.53 474.36,192.69 475.31,190.8 476.27,188.86 477.23,186.87 478.18,184.82 479.14,182.72 480.1,180.58 481.05,178.38 482.01,176.14 482.97,173.86 483.92,171.53 484.88,169.16 485.84,166.75 486.79,164.31 487.75,161.83 488.71,159.33 489.66,156.79 490.62,154.23 491.58,151.64 492.53,149.03 493.49,146.41 494.45,143.78 495.4,141.13 496.36,138.48 497.32,135.82 498.27,133.16 499.23,130.51 500.19,127.86 501.14,125.22 502.1,122.59 503.06,119.99 504.01,117.4 504.97,114.83 505.93,112.29 506.88,109.78 507.84,107.3 508.8,104.86 509.75,102.45 510.71,100.08 511.67,97.76 512.62,95.48 513.58,93.25 514.54,91.06 515.49,88.93 516.45,86.85 517.41,84.82 518.36,82.84 519.32,80.92 520.28,79.05 521.23,77.24 522.19,75.49 523.15,73.79 524.1,72.15 525.06,70.56 526.02,69.05 526.97,67.59 527.93,66.19 528.89,64.85 529.84,63.56 530.8,62.33 531.76,61.16 532.71,60.04 533.67,58.96 534.63,57.93 535.58,56.95 536.54,56.01 537.5,55.11 538.45,54.25 539.41,53.42 540.37,52.63 541.32,51.86 542.28,51.12 543.24,50.41 544.19,49.72 545.15,49.05 546.11,48.4 547.06,47.77 548.02,47.15 548.98,46.55 549.93,45.96 550.89,45.38 551.85,44.8 552.8,44.24 553.76,43.69 554.72,43.14 555.67,42.6 556.63,42.07 557.59,41.55 558.54,41.03 559.5,40.53 560.46,40.04 561.41,39.56 562.37,39.09 563.33,38.63 564.28,38.2 565.24,37.78 566.2,37.39 567.15,37.01 568.11,36.67 569.07,36.35 570.02,36.06 570.98,35.81 571.94,35.6 572.89,35.42 573.85,35.3 574.81,35.21 575.76,35.18 576.72,35.2 577.68,35.28 578.63,35.41 579.59,35.61 580.55,35.87 581.5,36.2 582.46,36.6 583.42,37.07 584.37,37.62 585.33,38.24 586.29,38.94 587.24,39.72 588.2,40.59 589.16,41.54 590.11,42.58 591.07,43.7 592.03,44.91 592.98,46.22 593.94,47.61 594.9,49.08 595.85,50.65 596.81,52.31 597.77,54.05 598.72,55.87 599.68,57.78 600.64,59.77 601.59,61.85 602.55,64 603.51,66.22 604.46,68.52 605.42,70.89 606.38,73.33 607.33,75.83 608.29,78.39 609.25,81 610.2,83.68 611.16,86.4 612.12,89.17 613.07,91.98 614.03,94.82 614.99,97.71 615.94,100.62 616.9,103.55 617.86,106.51 618.81,109.49 619.77,112.48 620.73,115.48 621.68,118.48 622.64,121.49 623.6,124.49 624.55,127.49 625.51,130.47 626.47,133.44 627.42,136.4 628.38,139.33 629.34,142.23 630.29,145.11 631.25,147.96 632.21,150.78 633.16,153.55 634.12,156.29 635.08,158.99 636.03,161.64 636.99,164.25 637.95,166.81 638.9,169.31 639.86,171.77 640.82,174.18 641.77,176.52 642.73,178.82 643.69,181.06 644.64,183.24 645.6,185.36 646.56,187.42 647.51,189.43 648.47,191.37 649.43,193.26 650.38,195.09 651.34,196.85 652.3,198.56 653.25,200.21 654.21,201.81 655.17,203.34 656.12,204.82 657.08,206.24 658.04,207.61 658.99,208.93 659.95,210.19 660.91,211.4 661.86,212.55 662.82,213.66 663.78,214.72 664.73,215.73 665.69,216.7 666.65,217.62 667.6,218.49 668.56,219.33 669.52,220.12 670.47,220.87 671.43,221.59 672.39,222.27 673.34,222.91 674.3,223.52 675.26,224.1 676.21,224.64 677.17,225.15 678.13,225.64 679.08,226.1 680.04,226.53 681,226.93 681.95,227.31 682.91,227.67 683.87,228.01 684.82,228.32 685.78,228.62 686.74,228.89 687.69,229.15 688.65,229.4 689.61,229.62 690.56,229.83 691.52,230.03 692.48,230.21 693.43,230.38 694.39,230.54 695.35,230.69 696.3,230.83 697.26,230.95 698.22,231.07 699.17,231.18 700.13,231.28 701.09,231.37 702.04,231.46 703,231.54" fill="none" stroke="#00ff00" stroke-width="1.85" stroke-linejoin="round"/>
<line x1="588.1" y1="8.3" x2="611.6" y2="8.3" stroke="#0000ff" stroke-width="2.2"/>
<text x="613.8" y="11.2" class="lg">Fitted peak 1 (cis)</text>
<line x1="588.1" y1="20.3" x2="611.6" y2="20.3" stroke="#ff0000" stroke-width="2.2"/>
<text x="613.8" y="23.2" class="lg">Fitted peak 2 (trans)</text>
<line x1="588.1" y1="32.3" x2="611.6" y2="32.3" stroke="#00ff00" stroke-width="2.2"/>
<text x="613.8" y="35.2" class="lg">Cumulative fit peak</text>
<text x="426.6" y="23.1" class="pl pl2">(b)</text>
<rect x="48.5" y="298.4" width="284.8" height="230.1" fill="none" stroke="#1c1c1c" stroke-width="1.25"/>
<line x1="43.5" y1="528.5" x2="48.5" y2="528.5" stroke="#2a2a2a" stroke-width="1.1"/>
<text x="40.6" y="532" class="tk" text-anchor="end">0.0</text>
<line x1="45.7" y1="508.89" x2="48.5" y2="508.89" stroke="#2a2a2a" stroke-width="1.1"/>
<line x1="43.5" y1="489.28" x2="48.5" y2="489.28" stroke="#2a2a2a" stroke-width="1.1"/>
<text x="40.6" y="492.78" class="tk" text-anchor="end">0.2</text>
<line x1="45.7" y1="469.67" x2="48.5" y2="469.67" stroke="#2a2a2a" stroke-width="1.1"/>
<line x1="43.5" y1="450.06" x2="48.5" y2="450.06" stroke="#2a2a2a" stroke-width="1.1"/>
<text x="40.6" y="453.56" class="tk" text-anchor="end">0.4</text>
<line x1="45.7" y1="430.45" x2="48.5" y2="430.45" stroke="#2a2a2a" stroke-width="1.1"/>
<line x1="43.5" y1="410.84" x2="48.5" y2="410.84" stroke="#2a2a2a" stroke-width="1.1"/>
<text x="40.6" y="414.34" class="tk" text-anchor="end">0.6</text>
<line x1="45.7" y1="391.23" x2="48.5" y2="391.23" stroke="#2a2a2a" stroke-width="1.1"/>
<line x1="43.5" y1="371.62" x2="48.5" y2="371.62" stroke="#2a2a2a" stroke-width="1.1"/>
<text x="40.6" y="375.12" class="tk" text-anchor="end">0.8</text>
<line x1="45.7" y1="352.01" x2="48.5" y2="352.01" stroke="#2a2a2a" stroke-width="1.1"/>
<line x1="43.5" y1="332.4" x2="48.5" y2="332.4" stroke="#2a2a2a" stroke-width="1.1"/>
<text x="40.6" y="335.9" class="tk" text-anchor="end">1.0</text>
<line x1="45.7" y1="312.79" x2="48.5" y2="312.79" stroke="#2a2a2a" stroke-width="1.1"/>
<line x1="48.5" y1="528.5" x2="48.5" y2="531.5" stroke="#2a2a2a" stroke-width="1.1"/>
<line x1="95.97" y1="528.5" x2="95.97" y2="533.7" stroke="#2a2a2a" stroke-width="1.1"/>
<text x="95.97" y="545.5" class="tk" text-anchor="middle">400</text>
<line x1="143.43" y1="528.5" x2="143.43" y2="531.5" stroke="#2a2a2a" stroke-width="1.1"/>
<line x1="190.9" y1="528.5" x2="190.9" y2="533.7" stroke="#2a2a2a" stroke-width="1.1"/>
<text x="190.9" y="545.5" class="tk" text-anchor="middle">500</text>
<line x1="238.37" y1="528.5" x2="238.37" y2="531.5" stroke="#2a2a2a" stroke-width="1.1"/>
<line x1="285.83" y1="528.5" x2="285.83" y2="533.7" stroke="#2a2a2a" stroke-width="1.1"/>
<text x="285.83" y="545.5" class="tk" text-anchor="middle">600</text>
<line x1="333.3" y1="528.5" x2="333.3" y2="531.5" stroke="#2a2a2a" stroke-width="1.1"/>
<text x="190.9" y="565.3" class="ti" text-anchor="middle">Wavelength (nm)</text>
<text transform="translate(12.3,406.5) rotate(-90)" class="ti" text-anchor="middle">Normalized Absorption</text>
<polyline points="48.5,528.14 49.45,528.11 50.4,528.06 51.35,528.02 52.3,527.97 53.25,527.91 54.2,527.85 55.15,527.78 56.09,527.71 57.04,527.63 57.99,527.54 58.94,527.44 59.89,527.34 60.84,527.23 61.79,527.11 62.74,526.98 63.69,526.83 64.64,526.68 65.59,526.51 66.54,526.33 67.49,526.13 68.44,525.92 69.39,525.7 70.33,525.45 71.28,525.19 72.23,524.91 73.18,524.61 74.13,524.28 75.08,523.94 76.03,523.57 76.98,523.17 77.93,522.75 78.88,522.3 79.83,521.83 80.78,521.32 81.73,520.78 82.68,520.21 83.63,519.6 84.57,518.96 85.52,518.28 86.47,517.57 87.42,516.81 88.37,516.02 89.32,515.18 90.27,514.3 91.22,513.37 92.17,512.4 93.12,511.38 94.07,510.31 95.02,509.2 95.97,508.03 96.92,506.82 97.87,505.55 98.81,504.23 99.76,502.86 100.71,501.44 101.66,499.97 102.61,498.44 103.56,496.86 104.51,495.23 105.46,493.54 106.41,491.8 107.36,490.02 108.31,488.18 109.26,486.29 110.21,484.36 111.16,482.38 112.11,480.35 113.05,478.28 114,476.17 114.95,474.03 115.9,471.84 116.85,469.63 117.8,467.38 118.75,465.1 119.7,462.8 120.65,460.48 121.6,458.15 122.55,455.79 123.5,453.43 124.45,451.07 125.4,448.7 126.35,446.33 127.29,443.98 128.24,441.63 129.19,439.3 130.14,437 131.09,434.72 132.04,432.47 132.99,430.26 133.94,428.09 134.89,425.96 135.84,423.89 136.79,421.87 137.74,419.92 138.69,418.02 139.64,416.2 140.59,414.46 141.53,412.79 142.48,411.21 143.43,409.71 144.38,408.31 145.33,407 146.28,405.79 147.23,404.68 148.18,403.67 149.13,402.78 150.08,401.99 151.03,401.31 151.98,400.75 152.93,400.3 153.88,399.97 154.83,399.76 155.77,399.67 156.72,399.69 157.67,399.83 158.62,400.08 159.57,400.45 160.52,400.93 161.47,401.52 162.42,402.23 163.37,403.04 164.32,403.96 165.27,404.98 166.22,406.11 167.17,407.33 168.12,408.65 169.07,410.06 170.01,411.56 170.96,413.14 171.91,414.8 172.86,416.54 173.81,418.35 174.76,420.23 175.71,422.17 176.66,424.18 177.61,426.23 178.56,428.34 179.51,430.49 180.46,432.68 181.41,434.9 182.36,437.15 183.31,439.43 184.25,441.74 185.2,444.05 186.15,446.38 187.1,448.72 188.05,451.06 189,453.4 189.95,455.73 190.9,458.05 191.85,460.36 192.8,462.66 193.75,464.93 194.7,467.18 195.65,469.4 196.6,471.6 197.55,473.76 198.49,475.89 199.44,477.97 200.39,480.02 201.34,482.03 202.29,484 203.24,485.92 204.19,487.79 205.14,489.62 206.09,491.39 207.04,493.12 207.99,494.8 208.94,496.43 209.89,498 210.84,499.53 211.79,501 212.73,502.42 213.68,503.79 214.63,505.11 215.58,506.38 216.53,507.6 217.48,508.77 218.43,509.89 219.38,510.96 220.33,511.98 221.28,512.96 222.23,513.9 223.18,514.79 224.13,515.64 225.08,516.44 226.03,517.21 226.97,517.94 227.92,518.62 228.87,519.28 229.82,519.89 230.77,520.48 231.72,521.03 232.67,521.54 233.62,522.03 234.57,522.49 235.52,522.92 236.47,523.33 237.42,523.71 238.37,524.07 239.32,524.4 240.27,524.71 241.21,525 242.16,525.27 243.11,525.53 244.06,525.76 245.01,525.98 245.96,526.19 246.91,526.38 247.86,526.55 248.81,526.71 249.76,526.86 250.71,527 251.66,527.13 252.61,527.25 253.56,527.36 254.51,527.46 255.45,527.55 256.4,527.64 257.35,527.72 258.3,527.79 259.25,527.85 260.2,527.91 261.15,527.97 262.1,528.02 263.05,528.07 264,528.11 264.95,528.15 265.9,528.18 266.85,528.21 267.8,528.24 268.75,528.27 269.69,528.29 270.64,528.31 271.59,528.33 272.54,528.35 273.49,528.36 274.44,528.38 275.39,528.39 276.34,528.4 277.29,528.41 278.24,528.42 279.19,528.43 280.14,528.44 281.09,528.45 282.04,528.45 282.99,528.46 283.93,528.46 284.88,528.47 285.83,528.47 286.78,528.47 287.73,528.48 288.68,528.48 289.63,528.48 290.58,528.48 291.53,528.49 292.48,528.49 293.43,528.49 294.38,528.49 295.33,528.49 296.28,528.49 297.23,528.49 298.17,528.49 299.12,528.5 300.07,528.5 301.02,528.5 301.97,528.5 302.92,528.5 303.87,528.5 304.82,528.5 305.77,528.5 306.72,528.5 307.67,528.5 308.62,528.5 309.57,528.5 310.52,528.5 311.47,528.5 312.41,528.5 313.36,528.5 314.31,528.5 315.26,528.5 316.21,528.5 317.16,528.5 318.11,528.5 319.06,528.5 320.01,528.5 320.96,528.5 321.91,528.5 322.86,528.5 323.81,528.5 324.76,528.5 325.71,528.5 326.65,528.5 327.6,528.5 328.55,528.5 329.5,528.5 330.45,528.5 331.4,528.5 332.35,528.5 333.3,528.5" fill="none" stroke="#0000ff" stroke-width="1.85" stroke-linejoin="round"/>
<polyline points="48.5,528.5 49.45,528.5 50.4,528.5 51.35,528.5 52.3,528.5 53.25,528.5 54.2,528.5 55.15,528.5 56.09,528.5 57.04,528.5 57.99,528.5 58.94,528.5 59.89,528.5 60.84,528.5 61.79,528.5 62.74,528.5 63.69,528.49 64.64,528.49 65.59,528.49 66.54,528.49 67.49,528.49 68.44,528.49 69.39,528.49 70.33,528.49 71.28,528.49 72.23,528.48 73.18,528.48 74.13,528.48 75.08,528.48 76.03,528.48 76.98,528.47 77.93,528.47 78.88,528.47 79.83,528.46 80.78,528.46 81.73,528.45 82.68,528.45 83.63,528.44 84.57,528.43 85.52,528.42 86.47,528.41 87.42,528.41 88.37,528.39 89.32,528.38 90.27,528.37 91.22,528.36 92.17,528.34 93.12,528.32 94.07,528.3 95.02,528.28 95.97,528.26 96.92,528.23 97.87,528.2 98.81,528.17 99.76,528.14 100.71,528.1 101.66,528.06 102.61,528.02 103.56,527.97 104.51,527.92 105.46,527.86 106.41,527.8 107.36,527.73 108.31,527.66 109.26,527.58 110.21,527.5 111.16,527.4 112.11,527.3 113.05,527.19 114,527.07 114.95,526.95 115.9,526.81 116.85,526.66 117.8,526.5 118.75,526.33 119.7,526.14 120.65,525.95 121.6,525.73 122.55,525.5 123.5,525.26 124.45,525 125.4,524.71 126.35,524.41 127.29,524.09 128.24,523.75 129.19,523.39 130.14,523 131.09,522.58 132.04,522.14 132.99,521.67 133.94,521.18 134.89,520.65 135.84,520.09 136.79,519.5 137.74,518.88 138.69,518.22 139.64,517.52 140.59,516.78 141.53,516.01 142.48,515.19 143.43,514.34 144.38,513.43 145.33,512.49 146.28,511.49 147.23,510.45 148.18,509.36 149.13,508.22 150.08,507.03 151.03,505.79 151.98,504.49 152.93,503.14 153.88,501.73 154.83,500.27 155.77,498.75 156.72,497.17 157.67,495.53 158.62,493.83 159.57,492.08 160.52,490.27 161.47,488.39 162.42,486.46 163.37,484.47 164.32,482.42 165.27,480.31 166.22,478.14 167.17,475.92 168.12,473.64 169.07,471.3 170.01,468.91 170.96,466.47 171.91,463.98 172.86,461.45 173.81,458.86 174.76,456.24 175.71,453.57 176.66,450.86 177.61,448.12 178.56,445.34 179.51,442.54 180.46,439.7 181.41,436.85 182.36,433.98 183.31,431.09 184.25,428.19 185.2,425.29 186.15,422.38 187.1,419.47 188.05,416.58 189,413.69 189.95,410.82 190.9,407.97 191.85,405.15 192.8,402.36 193.75,399.6 194.7,396.89 195.65,394.22 196.6,391.61 197.55,389.05 198.49,386.55 199.44,384.12 200.39,381.76 201.34,379.48 202.29,377.28 203.24,375.16 204.19,373.14 205.14,371.21 206.09,369.38 207.04,367.65 207.99,366.03 208.94,364.52 209.89,363.12 210.84,361.84 211.79,360.68 212.73,359.64 213.68,358.72 214.63,357.93 215.58,357.27 216.53,356.75 217.48,356.35 218.43,356.08 219.38,355.95 220.33,355.95 221.28,356.08 222.23,356.35 223.18,356.75 224.13,357.27 225.08,357.93 226.03,358.72 226.97,359.64 227.92,360.68 228.87,361.84 229.82,363.12 230.77,364.52 231.72,366.03 232.67,367.65 233.62,369.38 234.57,371.21 235.52,373.14 236.47,375.16 237.42,377.28 238.37,379.48 239.32,381.76 240.27,384.12 241.21,386.55 242.16,389.05 243.11,391.61 244.06,394.22 245.01,396.89 245.96,399.6 246.91,402.36 247.86,405.15 248.81,407.97 249.76,410.82 250.71,413.69 251.66,416.58 252.61,419.47 253.56,422.38 254.51,425.29 255.45,428.19 256.4,431.09 257.35,433.98 258.3,436.85 259.25,439.7 260.2,442.54 261.15,445.34 262.1,448.12 263.05,450.86 264,453.57 264.95,456.24 265.9,458.86 266.85,461.45 267.8,463.98 268.75,466.47 269.69,468.91 270.64,471.3 271.59,473.64 272.54,475.92 273.49,478.14 274.44,480.31 275.39,482.42 276.34,484.47 277.29,486.46 278.24,488.39 279.19,490.27 280.14,492.08 281.09,493.83 282.04,495.53 282.99,497.17 283.93,498.75 284.88,500.27 285.83,501.73 286.78,503.14 287.73,504.49 288.68,505.79 289.63,507.03 290.58,508.22 291.53,509.36 292.48,510.45 293.43,511.49 294.38,512.49 295.33,513.43 296.28,514.34 297.23,515.19 298.17,516.01 299.12,516.78 300.07,517.52 301.02,518.22 301.97,518.88 302.92,519.5 303.87,520.09 304.82,520.65 305.77,521.18 306.72,521.67 307.67,522.14 308.62,522.58 309.57,523 310.52,523.39 311.47,523.75 312.41,524.09 313.36,524.41 314.31,524.71 315.26,525 316.21,525.26 317.16,525.5 318.11,525.73 319.06,525.95 320.01,526.14 320.96,526.33 321.91,526.5 322.86,526.66 323.81,526.81 324.76,526.95 325.71,527.07 326.65,527.19 327.6,527.3 328.55,527.4 329.5,527.5 330.45,527.58 331.4,527.66 332.35,527.73 333.3,527.8" fill="none" stroke="#ff0000" stroke-width="1.85" stroke-linejoin="round"/>
<polyline points="48.5,528.14 49.45,528.11 50.4,528.06 51.35,528.02 52.3,527.96 53.25,527.91 54.2,527.85 55.15,527.78 56.09,527.71 57.04,527.63 57.99,527.54 58.94,527.44 59.89,527.34 60.84,527.23 61.79,527.1 62.74,526.97 63.69,526.83 64.64,526.67 65.59,526.5 66.54,526.32 67.49,526.12 68.44,525.91 69.39,525.68 70.33,525.44 71.28,525.18 72.23,524.89 73.18,524.59 74.13,524.26 75.08,523.92 76.03,523.54 76.98,523.15 77.93,522.72 78.88,522.27 79.83,521.79 80.78,521.28 81.73,520.73 82.68,520.16 83.63,519.54 84.57,518.89 85.52,518.21 86.47,517.48 87.42,516.72 88.37,515.91 89.32,515.06 90.27,514.17 91.22,513.22 92.17,512.24 93.12,511.2 94.07,510.11 95.02,508.98 95.97,507.79 96.92,506.55 97.87,505.26 98.81,503.91 99.76,502.5 100.71,501.05 101.66,499.53 102.61,497.96 103.56,496.33 104.51,494.65 105.46,492.9 106.41,491.1 107.36,489.25 108.31,487.34 109.26,485.37 110.21,483.35 111.16,481.28 112.11,479.15 113.05,476.98 114,474.75 114.95,472.47 115.9,470.15 116.85,467.79 117.8,465.38 118.75,462.93 119.7,460.45 120.65,457.93 121.6,455.38 122.55,452.8 123.5,450.19 124.45,447.56 125.4,444.91 126.35,442.25 127.29,439.57 128.24,436.88 129.19,434.19 130.14,431.49 131.09,428.8 132.04,426.11 132.99,423.43 133.94,420.76 134.89,418.11 135.84,415.48 136.79,412.87 137.74,410.29 138.69,407.74 139.64,405.22 140.59,402.74 141.53,400.3 142.48,397.9 143.43,395.55 144.38,393.24 145.33,390.99 146.28,388.78 147.23,386.63 148.18,384.54 149.13,382.5 150.08,380.52 151.03,378.6 151.98,376.74 152.93,374.94 153.88,373.21 154.83,371.53 155.77,369.91 156.72,368.36 157.67,366.86 158.62,365.42 159.57,364.03 160.52,362.7 161.47,361.42 162.42,360.19 163.37,359.01 164.32,357.88 165.27,356.79 166.22,355.75 167.17,354.74 168.12,353.78 169.07,352.86 170.01,351.97 170.96,351.11 171.91,350.29 172.86,349.49 173.81,348.72 174.76,347.97 175.71,347.24 176.66,346.54 177.61,345.85 178.56,345.18 179.51,344.52 180.46,343.88 181.41,343.25 182.36,342.63 183.31,342.02 184.25,341.43 185.2,340.84 186.15,340.26 187.1,339.69 188.05,339.13 189,338.58 189.95,338.05 190.9,337.52 191.85,337.01 192.8,336.51 193.75,336.03 194.7,335.57 195.65,335.12 196.6,334.7 197.55,334.31 198.49,333.93 199.44,333.59 200.39,333.28 201.34,333.01 202.29,332.78 203.24,332.58 204.19,332.43 205.14,332.33 206.09,332.27 207.04,332.27 207.99,332.33 208.94,332.44 209.89,332.62 210.84,332.86 211.79,333.18 212.73,333.56 213.68,334.01 214.63,334.54 215.58,335.15 216.53,335.84 217.48,336.61 218.43,337.47 219.38,338.41 220.33,339.43 221.28,340.55 222.23,341.75 223.18,343.03 224.13,344.41 225.08,345.88 226.03,347.43 226.97,349.07 227.92,350.8 228.87,352.61 229.82,354.51 230.77,356.49 231.72,358.55 232.67,360.69 233.62,362.91 234.57,365.2 235.52,367.56 236.47,369.99 237.42,372.49 238.37,375.04 239.32,377.66 240.27,380.33 241.21,383.05 242.16,385.82 243.11,388.63 244.06,391.48 245.01,394.37 245.96,397.29 246.91,400.23 247.86,403.2 248.81,406.18 249.76,409.18 250.71,412.19 251.66,415.21 252.61,418.22 253.56,421.24 254.51,424.25 255.45,427.24 256.4,430.23 257.35,433.19 258.3,436.14 259.25,439.06 260.2,441.95 261.15,444.81 262.1,447.64 263.05,450.43 264,453.18 264.95,455.88 265.9,458.54 266.85,461.16 267.8,463.73 268.75,466.24 269.69,468.7 270.64,471.11 271.59,473.47 272.54,475.76 273.49,478 274.44,480.19 275.39,482.31 276.34,484.37 277.29,486.37 278.24,488.31 279.19,490.2 280.14,492.02 281.09,493.78 282.04,495.48 282.99,497.12 283.93,498.71 284.88,500.23 285.83,501.7 286.78,503.11 287.73,504.47 288.68,505.77 289.63,507.01 290.58,508.21 291.53,509.35 292.48,510.44 293.43,511.48 294.38,512.48 295.33,513.43 296.28,514.33 297.23,515.19 298.17,516 299.12,516.78 300.07,517.52 301.02,518.21 301.97,518.87 302.92,519.5 303.87,520.09 304.82,520.65 305.77,521.18 306.72,521.67 307.67,522.14 308.62,522.58 309.57,522.99 310.52,523.38 311.47,523.75 312.41,524.09 313.36,524.41 314.31,524.71 315.26,524.99 316.21,525.26 317.16,525.5 318.11,525.73 319.06,525.95 320.01,526.14 320.96,526.33 321.91,526.5 322.86,526.66 323.81,526.81 324.76,526.95 325.71,527.07 326.65,527.19 327.6,527.3 328.55,527.4 329.5,527.5 330.45,527.58 331.4,527.66 332.35,527.73 333.3,527.8" fill="none" stroke="#00ff00" stroke-width="1.85" stroke-linejoin="round"/>
<line x1="219.2" y1="306.2" x2="242.7" y2="306.2" stroke="#0000ff" stroke-width="2.2"/>
<text x="244.9" y="309.1" class="lg">Fitted peak 2 (cis)</text>
<line x1="219.2" y1="318.2" x2="242.7" y2="318.2" stroke="#ff0000" stroke-width="2.2"/>
<text x="244.9" y="321.1" class="lg">Fitted peak 2 (trans)</text>
<line x1="219.2" y1="330.2" x2="242.7" y2="330.2" stroke="#00ff00" stroke-width="2.2"/>
<text x="244.9" y="333.1" class="lg">Cumulative fit peak</text>
<text x="58.6" y="320.3" class="pl pl2">(c)</text>
<rect x="420" y="298.4" width="286.8" height="231.2" fill="none" stroke="#1c1c1c" stroke-width="1.25"/>
<line x1="415" y1="529.6" x2="420" y2="529.6" stroke="#2a2a2a" stroke-width="1.1"/>
<text x="412.1" y="533.1" class="tk" text-anchor="end">0.0</text>
<line x1="417.2" y1="509.89" x2="420" y2="509.89" stroke="#2a2a2a" stroke-width="1.1"/>
<line x1="415" y1="490.18" x2="420" y2="490.18" stroke="#2a2a2a" stroke-width="1.1"/>
<text x="412.1" y="493.68" class="tk" text-anchor="end">0.2</text>
<line x1="417.2" y1="470.47" x2="420" y2="470.47" stroke="#2a2a2a" stroke-width="1.1"/>
<line x1="415" y1="450.76" x2="420" y2="450.76" stroke="#2a2a2a" stroke-width="1.1"/>
<text x="412.1" y="454.26" class="tk" text-anchor="end">0.4</text>
<line x1="417.2" y1="431.05" x2="420" y2="431.05" stroke="#2a2a2a" stroke-width="1.1"/>
<line x1="415" y1="411.34" x2="420" y2="411.34" stroke="#2a2a2a" stroke-width="1.1"/>
<text x="412.1" y="414.84" class="tk" text-anchor="end">0.6</text>
<line x1="417.2" y1="391.63" x2="420" y2="391.63" stroke="#2a2a2a" stroke-width="1.1"/>
<line x1="415" y1="371.92" x2="420" y2="371.92" stroke="#2a2a2a" stroke-width="1.1"/>
<text x="412.1" y="375.42" class="tk" text-anchor="end">0.8</text>
<line x1="417.2" y1="352.21" x2="420" y2="352.21" stroke="#2a2a2a" stroke-width="1.1"/>
<line x1="415" y1="332.5" x2="420" y2="332.5" stroke="#2a2a2a" stroke-width="1.1"/>
<text x="412.1" y="336" class="tk" text-anchor="end">1.0</text>
<line x1="417.2" y1="312.79" x2="420" y2="312.79" stroke="#2a2a2a" stroke-width="1.1"/>
<line x1="420" y1="529.6" x2="420" y2="532.6" stroke="#2a2a2a" stroke-width="1.1"/>
<line x1="467.8" y1="529.6" x2="467.8" y2="534.8" stroke="#2a2a2a" stroke-width="1.1"/>
<text x="467.8" y="546.6" class="tk" text-anchor="middle">400</text>
<line x1="515.6" y1="529.6" x2="515.6" y2="532.6" stroke="#2a2a2a" stroke-width="1.1"/>
<line x1="563.4" y1="529.6" x2="563.4" y2="534.8" stroke="#2a2a2a" stroke-width="1.1"/>
<text x="563.4" y="546.6" class="tk" text-anchor="middle">500</text>
<line x1="611.2" y1="529.6" x2="611.2" y2="532.6" stroke="#2a2a2a" stroke-width="1.1"/>
<line x1="659" y1="529.6" x2="659" y2="534.8" stroke="#2a2a2a" stroke-width="1.1"/>
<text x="659" y="546.6" class="tk" text-anchor="middle">600</text>
<line x1="706.8" y1="529.6" x2="706.8" y2="532.6" stroke="#2a2a2a" stroke-width="1.1"/>
<text x="563.4" y="567.1" class="ti" text-anchor="middle">Wavelength (nm)</text>
<text transform="translate(384.1,407.5) rotate(-90)" class="ti" text-anchor="middle">Normalized Absoption</text>
<polyline points="420,529.17 420.96,529.12 421.91,529.07 422.87,529.02 423.82,528.96 424.78,528.89 425.74,528.82 426.69,528.75 427.65,528.66 428.6,528.57 429.56,528.48 430.52,528.37 431.47,528.25 432.43,528.13 433.38,527.99 434.34,527.84 435.3,527.69 436.25,527.51 437.21,527.33 438.16,527.13 439.12,526.92 440.08,526.69 441.03,526.44 441.99,526.18 442.94,525.9 443.9,525.59 444.86,525.27 445.81,524.92 446.77,524.55 447.72,524.16 448.68,523.74 449.64,523.29 450.59,522.82 451.55,522.31 452.5,521.78 453.46,521.21 454.42,520.61 455.37,519.98 456.33,519.31 457.28,518.6 458.24,517.85 459.2,517.06 460.15,516.24 461.11,515.37 462.06,514.45 463.02,513.5 463.98,512.49 464.93,511.44 465.89,510.34 466.84,509.2 467.8,508 468.76,506.75 469.71,505.45 470.67,504.1 471.62,502.7 472.58,501.24 473.54,499.74 474.49,498.18 475.45,496.56 476.4,494.89 477.36,493.18 478.32,491.4 479.27,489.58 480.23,487.71 481.18,485.78 482.14,483.81 483.1,481.79 484.05,479.72 485.01,477.61 485.96,475.46 486.92,473.27 487.88,471.04 488.83,468.77 489.79,466.47 490.74,464.14 491.7,461.78 492.66,459.4 493.61,457 494.57,454.58 495.52,452.15 496.48,449.7 497.44,447.26 498.39,444.81 499.35,442.36 500.3,439.92 501.26,437.49 502.22,435.07 503.17,432.68 504.13,430.31 505.08,427.98 506.04,425.67 507,423.41 507.95,421.19 508.91,419.02 509.86,416.91 510.82,414.85 511.78,412.86 512.73,410.93 513.69,409.08 514.64,407.31 515.6,405.61 516.56,404.01 517.51,402.49 518.47,401.06 519.42,399.73 520.38,398.5 521.34,397.37 522.29,396.35 523.25,395.44 524.2,394.63 525.16,393.94 526.12,393.37 527.07,392.91 528.03,392.56 528.98,392.34 529.94,392.23 530.9,392.24 531.85,392.37 532.81,392.62 533.76,392.98 534.72,393.46 535.68,394.05 536.63,394.76 537.59,395.57 538.54,396.5 539.5,397.53 540.46,398.66 541.41,399.9 542.37,401.24 543.32,402.67 544.28,404.19 545.24,405.79 546.19,407.49 547.15,409.26 548.1,411.11 549.06,413.03 550.02,415.01 550.97,417.06 551.93,419.17 552.88,421.33 553.84,423.54 554.8,425.79 555.75,428.08 556.71,430.4 557.66,432.76 558.62,435.14 559.58,437.54 560.53,439.95 561.49,442.38 562.44,444.81 563.4,447.25 564.36,449.68 565.31,452.11 566.27,454.53 567.22,456.94 568.18,459.33 569.14,461.7 570.09,464.04 571.05,466.36 572,468.65 572.96,470.9 573.92,473.12 574.87,475.3 575.83,477.45 576.78,479.55 577.74,481.61 578.7,483.62 579.65,485.58 580.61,487.5 581.56,489.37 582.52,491.19 583.48,492.96 584.43,494.67 585.39,496.34 586.34,497.95 587.3,499.51 588.26,501.02 589.21,502.47 590.17,503.87 591.12,505.22 592.08,506.52 593.04,507.77 593.99,508.97 594.95,510.12 595.9,511.22 596.86,512.28 597.82,513.29 598.77,514.25 599.73,515.17 600.68,516.04 601.64,516.87 602.6,517.66 603.55,518.42 604.51,519.13 605.46,519.81 606.42,520.45 607.38,521.05 608.33,521.62 609.29,522.17 610.24,522.68 611.2,523.16 612.16,523.61 613.11,524.03 614.07,524.43 615.02,524.81 615.98,525.16 616.94,525.49 617.89,525.8 618.85,526.08 619.8,526.35 620.76,526.6 621.72,526.84 622.67,527.06 623.63,527.26 624.58,527.45 625.54,527.62 626.5,527.78 627.45,527.93 628.41,528.07 629.36,528.2 630.32,528.32 631.28,528.43 632.23,528.53 633.19,528.63 634.14,528.71 635.1,528.79 636.06,528.86 637.01,528.93 637.97,528.99 638.92,529.05 639.88,529.1 640.84,529.15 641.79,529.19 642.75,529.23 643.7,529.26 644.66,529.3 645.62,529.33 646.57,529.35 647.53,529.38 648.48,529.4 649.44,529.42 650.4,529.44 651.35,529.45 652.31,529.47 653.26,529.48 654.22,529.5 655.18,529.51 656.13,529.52 657.09,529.53 658.04,529.53 659,529.54 659.96,529.55 660.91,529.55 661.87,529.56 662.82,529.56 663.78,529.57 664.74,529.57 665.69,529.57 666.65,529.58 667.6,529.58 668.56,529.58 669.52,529.58 670.47,529.59 671.43,529.59 672.38,529.59 673.34,529.59 674.3,529.59 675.25,529.59 676.21,529.59 677.16,529.59 678.12,529.59 679.08,529.6 680.03,529.6 680.99,529.6 681.94,529.6 682.9,529.6 683.86,529.6 684.81,529.6 685.77,529.6 686.72,529.6 687.68,529.6 688.64,529.6 689.59,529.6 690.55,529.6 691.5,529.6 692.46,529.6 693.42,529.6 694.37,529.6 695.33,529.6 696.28,529.6 697.24,529.6 698.2,529.6 699.15,529.6 700.11,529.6 701.06,529.6 702.02,529.6 702.98,529.6 703.93,529.6 704.89,529.6 705.84,529.6 706.8,529.6" fill="none" stroke="#0000ff" stroke-width="1.85" stroke-linejoin="round"/>
<polyline points="420,529.6 420.96,529.6 421.91,529.6 422.87,529.6 423.82,529.6 424.78,529.6 425.74,529.6 426.69,529.6 427.65,529.6 428.6,529.6 429.56,529.6 430.52,529.6 431.47,529.6 432.43,529.6 433.38,529.6 434.34,529.6 435.3,529.6 436.25,529.6 437.21,529.6 438.16,529.6 439.12,529.6 440.08,529.6 441.03,529.6 441.99,529.6 442.94,529.59 443.9,529.59 444.86,529.59 445.81,529.59 446.77,529.59 447.72,529.59 448.68,529.59 449.64,529.59 450.59,529.59 451.55,529.58 452.5,529.58 453.46,529.58 454.42,529.58 455.37,529.57 456.33,529.57 457.28,529.57 458.24,529.56 459.2,529.56 460.15,529.55 461.11,529.55 462.06,529.54 463.02,529.53 463.98,529.52 464.93,529.51 465.89,529.5 466.84,529.49 467.8,529.48 468.76,529.47 469.71,529.45 470.67,529.44 471.62,529.42 472.58,529.4 473.54,529.38 474.49,529.35 475.45,529.32 476.4,529.29 477.36,529.26 478.32,529.23 479.27,529.19 480.23,529.14 481.18,529.1 482.14,529.05 483.1,528.99 484.05,528.93 485.01,528.86 485.96,528.79 486.92,528.71 487.88,528.62 488.83,528.53 489.79,528.43 490.74,528.32 491.7,528.2 492.66,528.07 493.61,527.93 494.57,527.78 495.52,527.62 496.48,527.44 497.44,527.25 498.39,527.05 499.35,526.83 500.3,526.59 501.26,526.34 502.22,526.07 503.17,525.78 504.13,525.46 505.08,525.13 506.04,524.77 507,524.39 507.95,523.99 508.91,523.56 509.86,523.09 510.82,522.6 511.78,522.08 512.73,521.53 513.69,520.94 514.64,520.32 515.6,519.66 516.56,518.97 517.51,518.23 518.47,517.45 519.42,516.63 520.38,515.77 521.34,514.86 522.29,513.9 523.25,512.9 524.2,511.84 525.16,510.74 526.12,509.58 527.07,508.37 528.03,507.1 528.98,505.78 529.94,504.4 530.9,502.96 531.85,501.46 532.81,499.9 533.76,498.29 534.72,496.61 535.68,494.86 536.63,493.06 537.59,491.2 538.54,489.27 539.5,487.28 540.46,485.23 541.41,483.11 542.37,480.94 543.32,478.7 544.28,476.41 545.24,474.06 546.19,471.65 547.15,469.19 548.1,466.67 549.06,464.1 550.02,461.48 550.97,458.82 551.93,456.11 552.88,453.36 553.84,450.57 554.8,447.75 555.75,444.89 556.71,442.01 557.66,439.1 558.62,436.18 559.58,433.23 560.53,430.28 561.49,427.32 562.44,424.35 563.4,421.39 564.36,418.43 565.31,415.49 566.27,412.57 567.22,409.67 568.18,406.79 569.14,403.95 570.09,401.15 571.05,398.4 572,395.69 572.96,393.04 573.92,390.46 574.87,387.93 575.83,385.48 576.78,383.11 577.74,380.82 578.7,378.62 579.65,376.51 580.61,374.5 581.56,372.59 582.52,370.78 583.48,369.09 584.43,367.51 585.39,366.05 586.34,364.7 587.3,363.49 588.26,362.4 589.21,361.44 590.17,360.62 591.12,359.93 592.08,359.37 593.04,358.95 593.99,358.67 594.95,358.53 595.9,358.53 596.86,358.67 597.82,358.95 598.77,359.37 599.73,359.93 600.68,360.62 601.64,361.44 602.6,362.4 603.55,363.49 604.51,364.7 605.46,366.05 606.42,367.51 607.38,369.09 608.33,370.78 609.29,372.59 610.24,374.5 611.2,376.51 612.16,378.62 613.11,380.82 614.07,383.11 615.02,385.48 615.98,387.93 616.94,390.46 617.89,393.04 618.85,395.69 619.8,398.4 620.76,401.15 621.72,403.95 622.67,406.79 623.63,409.67 624.58,412.57 625.54,415.49 626.5,418.43 627.45,421.39 628.41,424.35 629.36,427.32 630.32,430.28 631.28,433.23 632.23,436.18 633.19,439.1 634.14,442.01 635.1,444.89 636.06,447.75 637.01,450.57 637.97,453.36 638.92,456.11 639.88,458.82 640.84,461.48 641.79,464.1 642.75,466.67 643.7,469.19 644.66,471.65 645.62,474.06 646.57,476.41 647.53,478.7 648.48,480.94 649.44,483.11 650.4,485.23 651.35,487.28 652.31,489.27 653.26,491.2 654.22,493.06 655.18,494.86 656.13,496.61 657.09,498.29 658.04,499.9 659,501.46 659.96,502.96 660.91,504.4 661.87,505.78 662.82,507.1 663.78,508.37 664.74,509.58 665.69,510.74 666.65,511.84 667.6,512.9 668.56,513.9 669.52,514.86 670.47,515.77 671.43,516.63 672.38,517.45 673.34,518.23 674.3,518.97 675.25,519.66 676.21,520.32 677.16,520.94 678.12,521.53 679.08,522.08 680.03,522.6 680.99,523.09 681.94,523.56 682.9,523.99 683.86,524.39 684.81,524.77 685.77,525.13 686.72,525.46 687.68,525.78 688.64,526.07 689.59,526.34 690.55,526.59 691.5,526.83 692.46,527.05 693.42,527.25 694.37,527.44 695.33,527.62 696.28,527.78 697.24,527.93 698.2,528.07 699.15,528.2 700.11,528.32 701.06,528.43 702.02,528.53 702.98,528.62 703.93,528.71 704.89,528.79 705.84,528.86 706.8,528.93" fill="none" stroke="#ff0000" stroke-width="1.85" stroke-linejoin="round"/>
<polyline points="420,529.17 420.96,529.12 421.91,529.07 422.87,529.02 423.82,528.96 424.78,528.89 425.74,528.82 426.69,528.75 427.65,528.66 428.6,528.57 429.56,528.47 430.52,528.37 431.47,528.25 432.43,528.13 433.38,527.99 434.34,527.84 435.3,527.68 436.25,527.51 437.21,527.33 438.16,527.13 439.12,526.92 440.08,526.69 441.03,526.44 441.99,526.17 442.94,525.89 443.9,525.59 444.86,525.26 445.81,524.91 446.77,524.54 447.72,524.15 448.68,523.73 449.64,523.28 450.59,522.8 451.55,522.3 452.5,521.76 453.46,521.19 454.42,520.59 455.37,519.95 456.33,519.28 457.28,518.56 458.24,517.81 459.2,517.02 460.15,516.19 461.11,515.31 462.06,514.39 463.02,513.43 463.98,512.42 464.93,511.36 465.89,510.25 466.84,509.09 467.8,507.88 468.76,506.62 469.71,505.31 470.67,503.94 471.62,502.52 472.58,501.04 473.54,499.51 474.49,497.93 475.45,496.29 476.4,494.59 477.36,492.84 478.32,491.03 479.27,489.17 480.23,487.25 481.18,485.28 482.14,483.26 483.1,481.18 484.05,479.05 485.01,476.88 485.96,474.65 486.92,472.38 487.88,470.06 488.83,467.7 489.79,465.3 490.74,462.86 491.7,460.38 492.66,457.87 493.61,455.33 494.57,452.76 495.52,450.16 496.48,447.55 497.44,444.91 498.39,442.25 499.35,439.59 500.3,436.91 501.26,434.23 502.22,431.54 503.17,428.86 504.13,426.18 505.08,423.51 506.04,420.85 507,418.2 507.95,415.58 508.91,412.98 509.86,410.4 510.82,407.86 511.78,405.34 512.73,402.86 513.69,400.43 514.64,398.03 515.6,395.68 516.56,393.37 517.51,391.12 518.47,388.91 519.42,386.76 520.38,384.67 521.34,382.63 522.29,380.65 523.25,378.74 524.2,376.88 525.16,375.08 526.12,373.35 527.07,371.67 528.03,370.06 528.98,368.52 529.94,367.03 530.9,365.6 531.85,364.23 532.81,362.92 533.76,361.67 534.72,360.46 535.68,359.32 536.63,358.22 537.59,357.17 538.54,356.16 539.5,355.21 540.46,354.29 541.41,353.41 542.37,352.57 543.32,351.77 544.28,351 545.24,350.25 546.19,349.54 547.15,348.85 548.1,348.18 549.06,347.53 550.02,346.9 550.97,346.28 551.93,345.68 552.88,345.09 553.84,344.51 554.8,343.94 555.75,343.37 556.71,342.81 557.66,342.26 558.62,341.71 559.58,341.17 560.53,340.63 561.49,340.1 562.44,339.56 563.4,339.04 564.36,338.52 565.31,338.01 566.27,337.5 567.22,337 568.18,336.52 569.14,336.05 570.09,335.59 571.05,335.16 572,334.74 572.96,334.35 573.92,333.98 574.87,333.64 575.83,333.33 576.78,333.06 577.74,332.83 578.7,332.64 579.65,332.49 580.61,332.4 581.56,332.36 582.52,332.37 583.48,332.44 584.43,332.58 585.39,332.78 586.34,333.05 587.3,333.4 588.26,333.82 589.21,334.31 590.17,334.89 591.12,335.55 592.08,336.29 593.04,337.13 593.99,338.05 594.95,339.06 595.9,340.16 596.86,341.35 597.82,342.64 598.77,344.02 599.73,345.49 600.68,347.06 601.64,348.72 602.6,350.46 603.55,352.3 604.51,354.23 605.46,356.25 606.42,358.35 607.38,360.54 608.33,362.81 609.29,365.15 610.24,367.57 611.2,370.07 612.16,372.63 613.11,375.26 614.07,377.94 615.02,380.69 615.98,383.49 616.94,386.34 617.89,389.24 618.85,392.18 619.8,395.15 620.76,398.16 621.72,401.19 622.67,404.25 623.63,407.32 624.58,410.41 625.54,413.51 626.5,416.62 627.45,419.72 628.41,422.82 629.36,425.92 630.32,429 631.28,432.06 632.23,435.11 633.19,438.13 634.14,441.12 635.1,444.09 636.06,447.01 637.01,449.9 637.97,452.75 638.92,455.56 639.88,458.32 640.84,461.03 641.79,463.69 642.75,466.3 643.7,468.85 644.66,471.35 645.62,473.78 646.57,476.16 647.53,478.48 648.48,480.74 649.44,482.93 650.4,485.06 651.35,487.13 652.31,489.14 653.26,491.08 654.22,492.96 655.18,494.77 656.13,496.52 657.09,498.21 658.04,499.84 659,501.4 659.96,502.91 660.91,504.35 661.87,505.74 662.82,507.06 663.78,508.33 664.74,509.55 665.69,510.71 666.65,511.82 667.6,512.88 668.56,513.88 669.52,514.84 670.47,515.75 671.43,516.62 672.38,517.44 673.34,518.22 674.3,518.96 675.25,519.65 676.21,520.31 677.16,520.94 678.12,521.52 679.08,522.08 680.03,522.6 680.99,523.09 681.94,523.55 682.9,523.99 683.86,524.39 684.81,524.77 685.77,525.13 686.72,525.46 687.68,525.77 688.64,526.07 689.59,526.34 690.55,526.59 691.5,526.83 692.46,527.05 693.42,527.25 694.37,527.44 695.33,527.62 696.28,527.78 697.24,527.93 698.2,528.07 699.15,528.2 700.11,528.32 701.06,528.43 702.02,528.53 702.98,528.62 703.93,528.71 704.89,528.79 705.84,528.86 706.8,528.93" fill="none" stroke="#00ff00" stroke-width="1.85" stroke-linejoin="round"/>
<line x1="591.8" y1="305.1" x2="615.6" y2="305.1" stroke="#0000ff" stroke-width="2.2"/>
<text x="617.5" y="308" class="lg">Fitted peak 1 (cis)</text>
<line x1="591.8" y1="317.1" x2="615.6" y2="317.1" stroke="#ff0000" stroke-width="2.2"/>
<text x="617.5" y="320" class="lg">Fitted peak 2 (trans)</text>
<line x1="591.8" y1="329.1" x2="615.6" y2="329.1" stroke="#00ff00" stroke-width="2.2"/>
<text x="617.5" y="332" class="lg">Cumulative fit peak</text>
<text x="430.3" y="320.4" class="pl pl2">(d)</text>
<rect x="231.5" y="605" width="286.9" height="231.1" fill="none" stroke="#1c1c1c" stroke-width="1.25"/>
<line x1="226.5" y1="836.1" x2="231.5" y2="836.1" stroke="#2a2a2a" stroke-width="1.1"/>
<text x="223.6" y="839.6" class="tk" text-anchor="end">0.0</text>
<line x1="228.7" y1="816.39" x2="231.5" y2="816.39" stroke="#2a2a2a" stroke-width="1.1"/>
<line x1="226.5" y1="796.68" x2="231.5" y2="796.68" stroke="#2a2a2a" stroke-width="1.1"/>
<text x="223.6" y="800.18" class="tk" text-anchor="end">0.2</text>
<line x1="228.7" y1="776.97" x2="231.5" y2="776.97" stroke="#2a2a2a" stroke-width="1.1"/>
<line x1="226.5" y1="757.26" x2="231.5" y2="757.26" stroke="#2a2a2a" stroke-width="1.1"/>
<text x="223.6" y="760.76" class="tk" text-anchor="end">0.4</text>
<line x1="228.7" y1="737.55" x2="231.5" y2="737.55" stroke="#2a2a2a" stroke-width="1.1"/>
<line x1="226.5" y1="717.84" x2="231.5" y2="717.84" stroke="#2a2a2a" stroke-width="1.1"/>
<text x="223.6" y="721.34" class="tk" text-anchor="end">0.6</text>
<line x1="228.7" y1="698.13" x2="231.5" y2="698.13" stroke="#2a2a2a" stroke-width="1.1"/>
<line x1="226.5" y1="678.42" x2="231.5" y2="678.42" stroke="#2a2a2a" stroke-width="1.1"/>
<text x="223.6" y="681.92" class="tk" text-anchor="end">0.8</text>
<line x1="228.7" y1="658.71" x2="231.5" y2="658.71" stroke="#2a2a2a" stroke-width="1.1"/>
<line x1="226.5" y1="639" x2="231.5" y2="639" stroke="#2a2a2a" stroke-width="1.1"/>
<text x="223.6" y="642.5" class="tk" text-anchor="end">1.0</text>
<line x1="228.7" y1="619.29" x2="231.5" y2="619.29" stroke="#2a2a2a" stroke-width="1.1"/>
<line x1="231.5" y1="836.1" x2="231.5" y2="839.1" stroke="#2a2a2a" stroke-width="1.1"/>
<line x1="279.32" y1="836.1" x2="279.32" y2="841.3" stroke="#2a2a2a" stroke-width="1.1"/>
<text x="279.32" y="853.1" class="tk" text-anchor="middle">400</text>
<line x1="327.13" y1="836.1" x2="327.13" y2="839.1" stroke="#2a2a2a" stroke-width="1.1"/>
<line x1="374.95" y1="836.1" x2="374.95" y2="841.3" stroke="#2a2a2a" stroke-width="1.1"/>
<text x="374.95" y="853.1" class="tk" text-anchor="middle">500</text>
<line x1="422.77" y1="836.1" x2="422.77" y2="839.1" stroke="#2a2a2a" stroke-width="1.1"/>
<line x1="470.58" y1="836.1" x2="470.58" y2="841.3" stroke="#2a2a2a" stroke-width="1.1"/>
<text x="470.58" y="853.1" class="tk" text-anchor="middle">600</text>
<line x1="518.4" y1="836.1" x2="518.4" y2="839.1" stroke="#2a2a2a" stroke-width="1.1"/>
<text x="374.35" y="872.8" class="ti" text-anchor="middle">Wavelength (nm)</text>
<text transform="translate(195.6,714.6) rotate(-90)" class="ti" text-anchor="middle">Normalized Absorption</text>
<polyline points="231.5,835.7 232.46,835.66 233.41,835.62 234.37,835.56 235.33,835.51 236.28,835.45 237.24,835.38 238.19,835.31 239.15,835.23 240.11,835.15 241.06,835.06 242.02,834.96 242.98,834.85 243.93,834.73 244.89,834.6 245.84,834.46 246.8,834.32 247.76,834.15 248.71,833.98 249.67,833.79 250.63,833.59 251.58,833.37 252.54,833.14 253.5,832.89 254.45,832.62 255.41,832.33 256.36,832.02 257.32,831.69 258.28,831.34 259.23,830.96 260.19,830.56 261.15,830.13 262.1,829.67 263.06,829.19 264.02,828.67 264.97,828.12 265.93,827.54 266.88,826.93 267.84,826.28 268.8,825.59 269.75,824.87 270.71,824.1 271.67,823.3 272.62,822.45 273.58,821.56 274.53,820.63 275.49,819.64 276.45,818.61 277.4,817.54 278.36,816.41 279.32,815.23 280.27,814.01 281.23,812.73 282.19,811.39 283.14,810.01 284.1,808.57 285.05,807.07 286.01,805.52 286.97,803.92 287.92,802.26 288.88,800.55 289.84,798.78 290.79,796.96 291.75,795.08 292.71,793.16 293.66,791.18 294.62,789.15 295.57,787.07 296.53,784.94 297.49,782.76 298.44,780.55 299.4,778.29 300.36,775.99 301.31,773.65 302.27,771.28 303.23,768.87 304.18,766.44 305.14,763.98 306.09,761.5 307.05,759 308.01,756.49 308.96,753.96 309.92,751.43 310.88,748.89 311.83,746.36 312.79,743.83 313.74,741.32 314.7,738.82 315.66,736.34 316.61,733.88 317.57,731.46 318.53,729.07 319.48,726.72 320.44,724.41 321.4,722.16 322.35,719.96 323.31,717.82 324.26,715.75 325.22,713.74 326.18,711.81 327.13,709.96 328.09,708.19 329.05,706.51 330,704.92 330.96,703.42 331.91,702.03 332.87,700.73 333.83,699.54 334.78,698.46 335.74,697.5 336.7,696.64 337.65,695.91 338.61,695.29 339.57,694.79 340.52,694.41 341.48,694.15 342.43,694.01 343.39,694 344.35,694.11 345.3,694.33 346.26,694.67 347.22,695.12 348.17,695.69 349.13,696.37 350.09,697.17 351.04,698.07 352,699.08 352.95,700.2 353.91,701.42 354.87,702.73 355.82,704.15 356.78,705.65 357.74,707.25 358.69,708.93 359.65,710.69 360.61,712.53 361.56,714.44 362.52,716.43 363.47,718.47 364.43,720.58 365.39,722.74 366.34,724.96 367.3,727.22 368.26,729.53 369.21,731.87 370.17,734.24 371.12,736.64 372.08,739.07 373.04,741.51 373.99,743.97 374.95,746.44 375.91,748.92 376.86,751.39 377.82,753.87 378.78,756.33 379.73,758.79 380.69,761.24 381.64,763.66 382.6,766.07 383.56,768.45 384.51,770.8 385.47,773.13 386.43,775.42 387.38,777.68 388.34,779.9 389.29,782.08 390.25,784.21 391.21,786.31 392.16,788.36 393.12,790.36 394.08,792.32 395.03,794.22 395.99,796.08 396.95,797.88 397.9,799.64 398.86,801.34 399.81,802.99 400.77,804.59 401.73,806.13 402.68,807.63 403.64,809.07 404.6,810.46 405.55,811.79 406.51,813.08 407.47,814.32 408.42,815.51 409.38,816.65 410.33,817.74 411.29,818.78 412.25,819.78 413.2,820.73 414.16,821.64 415.12,822.51 416.07,823.34 417.03,824.12 417.99,824.87 418.94,825.58 419.9,826.25 420.85,826.88 421.81,827.49 422.77,828.06 423.72,828.59 424.68,829.1 425.64,829.58 426.59,830.03 427.55,830.46 428.5,830.86 429.46,831.23 430.42,831.58 431.37,831.91 432.33,832.22 433.29,832.51 434.24,832.78 435.2,833.04 436.16,833.27 437.11,833.49 438.07,833.7 439.02,833.89 439.98,834.06 440.94,834.23 441.89,834.38 442.85,834.52 443.81,834.65 444.76,834.77 445.72,834.89 446.67,834.99 447.63,835.08 448.59,835.17 449.54,835.25 450.5,835.33 451.46,835.4 452.41,835.46 453.37,835.52 454.33,835.57 455.28,835.62 456.24,835.66 457.19,835.71 458.15,835.74 459.11,835.78 460.06,835.81 461.02,835.84 461.98,835.86 462.93,835.88 463.89,835.91 464.85,835.93 465.8,835.94 466.76,835.96 467.71,835.97 468.67,835.99 469.63,836 470.58,836.01 471.54,836.02 472.5,836.03 473.45,836.03 474.41,836.04 475.37,836.05 476.32,836.05 477.28,836.06 478.23,836.06 479.19,836.07 480.15,836.07 481.1,836.07 482.06,836.08 483.02,836.08 483.97,836.08 484.93,836.08 485.88,836.09 486.84,836.09 487.8,836.09 488.75,836.09 489.71,836.09 490.67,836.09 491.62,836.09 492.58,836.09 493.54,836.09 494.49,836.1 495.45,836.1 496.4,836.1 497.36,836.1 498.32,836.1 499.27,836.1 500.23,836.1 501.19,836.1 502.14,836.1 503.1,836.1 504.05,836.1 505.01,836.1 505.97,836.1 506.92,836.1 507.88,836.1 508.84,836.1 509.79,836.1 510.75,836.1 511.71,836.1 512.66,836.1 513.62,836.1 514.57,836.1 515.53,836.1 516.49,836.1 517.44,836.1 518.4,836.1" fill="none" stroke="#0000ff" stroke-width="1.85" stroke-linejoin="round"/>
<polyline points="231.5,836.1 232.46,836.1 233.41,836.1 234.37,836.1 235.33,836.1 236.28,836.1 237.24,836.1 238.19,836.1 239.15,836.1 240.11,836.1 241.06,836.1 242.02,836.1 242.98,836.1 243.93,836.1 244.89,836.1 245.84,836.1 246.8,836.1 247.76,836.1 248.71,836.1 249.67,836.1 250.63,836.1 251.58,836.1 252.54,836.1 253.5,836.1 254.45,836.1 255.41,836.1 256.36,836.1 257.32,836.1 258.28,836.1 259.23,836.09 260.19,836.09 261.15,836.09 262.1,836.09 263.06,836.09 264.02,836.09 264.97,836.09 265.93,836.09 266.88,836.09 267.84,836.08 268.8,836.08 269.75,836.08 270.71,836.08 271.67,836.07 272.62,836.07 273.58,836.07 274.53,836.06 275.49,836.06 276.45,836.05 277.4,836.04 278.36,836.04 279.32,836.03 280.27,836.02 281.23,836.01 282.19,836 283.14,835.99 284.1,835.98 285.05,835.96 286.01,835.94 286.97,835.93 287.92,835.91 288.88,835.88 289.84,835.86 290.79,835.83 291.75,835.8 292.71,835.77 293.66,835.73 294.62,835.7 295.57,835.65 296.53,835.6 297.49,835.55 298.44,835.5 299.4,835.43 300.36,835.37 301.31,835.29 302.27,835.21 303.23,835.12 304.18,835.02 305.14,834.92 306.09,834.81 307.05,834.68 308.01,834.55 308.96,834.4 309.92,834.25 310.88,834.08 311.83,833.89 312.79,833.69 313.74,833.48 314.7,833.25 315.66,833 316.61,832.73 317.57,832.45 318.53,832.14 319.48,831.81 320.44,831.45 321.4,831.08 322.35,830.67 323.31,830.24 324.26,829.78 325.22,829.29 326.18,828.77 327.13,828.21 328.09,827.62 329.05,826.99 330,826.32 330.96,825.62 331.91,824.87 332.87,824.08 333.83,823.25 334.78,822.37 335.74,821.45 336.7,820.47 337.65,819.44 338.61,818.37 339.57,817.24 340.52,816.05 341.48,814.81 342.43,813.51 343.39,812.15 344.35,810.73 345.3,809.25 346.26,807.71 347.22,806.11 348.17,804.44 349.13,802.71 350.09,800.92 351.04,799.06 352,797.14 352.95,795.15 353.91,793.1 354.87,790.98 355.82,788.8 356.78,786.56 357.74,784.26 358.69,781.9 359.65,779.48 360.61,777 361.56,774.47 362.52,771.89 363.47,769.25 364.43,766.57 365.39,763.84 366.34,761.07 367.3,758.26 368.26,755.41 369.21,752.54 370.17,749.63 371.12,746.7 372.08,743.76 373.04,740.79 373.99,737.82 374.95,734.84 375.91,731.87 376.86,728.89 377.82,725.93 378.78,722.99 379.73,720.06 380.69,717.17 381.64,714.3 382.6,711.48 383.56,708.7 384.51,705.97 385.47,703.3 386.43,700.69 387.38,698.15 388.34,695.68 389.29,693.29 390.25,690.99 391.21,688.77 392.16,686.65 393.12,684.64 394.08,682.73 395.03,680.92 395.99,679.24 396.95,677.67 397.9,676.22 398.86,674.9 399.81,673.71 400.77,672.66 401.73,671.74 402.68,670.95 403.64,670.31 404.6,669.8 405.55,669.44 406.51,669.23 407.47,669.16 408.42,669.23 409.38,669.44 410.33,669.8 411.29,670.31 412.25,670.95 413.2,671.74 414.16,672.66 415.12,673.71 416.07,674.9 417.03,676.22 417.99,677.67 418.94,679.24 419.9,680.92 420.85,682.73 421.81,684.64 422.77,686.65 423.72,688.77 424.68,690.99 425.64,693.29 426.59,695.68 427.55,698.15 428.5,700.69 429.46,703.3 430.42,705.97 431.37,708.7 432.33,711.48 433.29,714.3 434.24,717.17 435.2,720.06 436.16,722.99 437.11,725.93 438.07,728.89 439.02,731.87 439.98,734.84 440.94,737.82 441.89,740.79 442.85,743.76 443.81,746.7 444.76,749.63 445.72,752.54 446.67,755.41 447.63,758.26 448.59,761.07 449.54,763.84 450.5,766.57 451.46,769.25 452.41,771.89 453.37,774.47 454.33,777 455.28,779.48 456.24,781.9 457.19,784.26 458.15,786.56 459.11,788.8 460.06,790.98 461.02,793.1 461.98,795.15 462.93,797.14 463.89,799.06 464.85,800.92 465.8,802.71 466.76,804.44 467.71,806.11 468.67,807.71 469.63,809.25 470.58,810.73 471.54,812.15 472.5,813.51 473.45,814.81 474.41,816.05 475.37,817.24 476.32,818.37 477.28,819.44 478.23,820.47 479.19,821.45 480.15,822.37 481.1,823.25 482.06,824.08 483.02,824.87 483.97,825.62 484.93,826.32 485.88,826.99 486.84,827.62 487.8,828.21 488.75,828.77 489.71,829.29 490.67,829.78 491.62,830.24 492.58,830.67 493.54,831.08 494.49,831.45 495.45,831.81 496.4,832.14 497.36,832.45 498.32,832.73 499.27,833 500.23,833.25 501.19,833.48 502.14,833.69 503.1,833.89 504.05,834.08 505.01,834.25 505.97,834.4 506.92,834.55 507.88,834.68 508.84,834.81 509.79,834.92 510.75,835.02 511.71,835.12 512.66,835.21 513.62,835.29 514.57,835.37 515.53,835.43 516.49,835.5 517.44,835.55 518.4,835.6" fill="none" stroke="#ff0000" stroke-width="1.85" stroke-linejoin="round"/>
<polyline points="231.5,835.7 232.46,835.66 233.41,835.62 234.37,835.56 235.33,835.51 236.28,835.45 237.24,835.38 238.19,835.31 239.15,835.23 240.11,835.15 241.06,835.06 242.02,834.96 242.98,834.85 243.93,834.73 244.89,834.6 245.84,834.46 246.8,834.31 247.76,834.15 248.71,833.98 249.67,833.79 250.63,833.59 251.58,833.37 252.54,833.14 253.5,832.88 254.45,832.61 255.41,832.33 256.36,832.02 257.32,831.68 258.28,831.33 259.23,830.95 260.19,830.55 261.15,830.12 262.1,829.66 263.06,829.18 264.02,828.66 264.97,828.11 265.93,827.53 266.88,826.91 267.84,826.26 268.8,825.57 269.75,824.85 270.71,824.08 271.67,823.27 272.62,822.42 273.58,821.53 274.53,820.59 275.49,819.6 276.45,818.56 277.4,817.48 278.36,816.35 279.32,815.16 280.27,813.93 281.23,812.64 282.19,811.29 283.14,809.9 284.1,808.44 285.05,806.93 286.01,805.37 286.97,803.75 287.92,802.07 288.88,800.33 289.84,798.54 290.79,796.69 291.75,794.79 292.71,792.83 293.66,790.81 294.62,788.74 295.57,786.62 296.53,784.44 297.49,782.22 298.44,779.94 299.4,777.62 300.36,775.25 301.31,772.84 302.27,770.39 303.23,767.89 304.18,765.36 305.14,762.8 306.09,760.21 307.05,757.58 308.01,754.93 308.96,752.26 309.92,749.57 310.88,746.87 311.83,744.15 312.79,741.43 313.74,738.7 314.7,735.96 315.66,733.24 316.61,730.51 317.57,727.8 318.53,725.11 319.48,722.43 320.44,719.77 321.4,717.14 322.35,714.53 323.31,711.96 324.26,709.43 325.22,706.93 326.18,704.48 327.13,702.07 328.09,699.71 329.05,697.4 330,695.14 330.96,692.94 331.91,690.8 332.87,688.72 333.83,686.7 334.78,684.74 335.74,682.84 336.7,681.01 337.65,679.25 338.61,677.55 339.57,675.92 340.52,674.35 341.48,672.85 342.43,671.42 343.39,670.05 344.35,668.74 345.3,667.48 346.26,666.28 347.22,665.13 348.17,664.03 349.13,662.98 350.09,661.98 351.04,661.03 352,660.12 352.95,659.25 353.91,658.41 354.87,657.61 355.82,656.85 356.78,656.12 357.74,655.41 358.69,654.73 359.65,654.07 360.61,653.43 361.56,652.81 362.52,652.21 363.47,651.62 364.43,651.05 365.39,650.48 366.34,649.93 367.3,649.38 368.26,648.84 369.21,648.3 370.17,647.77 371.12,647.25 372.08,646.72 373.04,646.21 373.99,645.69 374.95,645.18 375.91,644.68 376.86,644.19 377.82,643.7 378.78,643.22 379.73,642.76 380.69,642.3 381.64,641.87 382.6,641.45 383.56,641.05 384.51,640.68 385.47,640.33 386.43,640.01 387.38,639.72 388.34,639.48 389.29,639.27 390.25,639.1 391.21,638.98 392.16,638.91 393.12,638.9 394.08,638.94 395.03,639.05 395.99,639.21 396.95,639.45 397.9,639.76 398.86,640.14 399.81,640.6 400.77,641.14 401.73,641.77 402.68,642.48 403.64,643.27 404.6,644.16 405.55,645.14 406.51,646.21 407.47,647.38 408.42,648.64 409.38,649.99 410.33,651.44 411.29,652.99 412.25,654.63 413.2,656.37 414.16,658.2 415.12,660.12 416.07,662.14 417.03,664.24 417.99,666.44 418.94,668.71 419.9,671.07 420.85,673.51 421.81,676.02 422.77,678.61 423.72,681.27 424.68,683.99 425.64,686.77 426.59,689.61 427.55,692.51 428.5,695.45 429.46,698.43 430.42,701.46 431.37,704.51 432.33,707.6 433.29,710.72 434.24,713.85 435.2,717 436.16,720.16 437.11,723.32 438.07,726.49 439.02,729.65 439.98,732.81 440.94,735.95 441.89,739.07 442.85,742.18 443.81,745.26 444.76,748.3 445.72,751.32 446.67,754.3 447.63,757.24 448.59,760.14 449.54,762.99 450.5,765.8 451.46,768.55 452.41,771.25 453.37,773.89 454.33,776.48 455.28,779 456.24,781.47 457.19,783.87 458.15,786.21 459.11,788.48 460.06,790.69 461.02,792.83 461.98,794.91 462.93,796.92 463.89,798.86 464.85,800.74 465.8,802.55 466.76,804.3 467.71,805.98 468.67,807.6 469.63,809.15 470.58,810.64 471.54,812.07 472.5,813.43 473.45,814.74 474.41,815.99 475.37,817.18 476.32,818.32 477.28,819.4 478.23,820.43 479.19,821.41 480.15,822.34 481.1,823.23 482.06,824.06 483.02,824.85 483.97,825.6 484.93,826.31 485.88,826.98 486.84,827.61 487.8,828.2 488.75,828.76 489.71,829.28 490.67,829.77 491.62,830.23 492.58,830.67 493.54,831.07 494.49,831.45 495.45,831.8 496.4,832.13 497.36,832.44 498.32,832.73 499.27,833 500.23,833.25 501.19,833.48 502.14,833.69 503.1,833.89 504.05,834.07 505.01,834.24 505.97,834.4 506.92,834.55 507.88,834.68 508.84,834.81 509.79,834.92 510.75,835.02 511.71,835.12 512.66,835.21 513.62,835.29 514.57,835.36 515.53,835.43 516.49,835.5 517.44,835.55 518.4,835.6" fill="none" stroke="#00ff00" stroke-width="1.85" stroke-linejoin="round"/>
<line x1="403.3" y1="612.1" x2="426.8" y2="612.1" stroke="#0000ff" stroke-width="2.2"/>
<text x="429.3" y="615" class="lg">Fitted peak 1 (cis)</text>
<line x1="403.3" y1="624.1" x2="426.8" y2="624.1" stroke="#ff0000" stroke-width="2.2"/>
<text x="429.3" y="627" class="lg">Fitted peak 2 (trans)</text>
<line x1="403.3" y1="636.1" x2="426.8" y2="636.1" stroke="#00ff00" stroke-width="2.2"/>
<text x="429.3" y="639" class="lg">Cumulative fit peak</text>
<text x="240.6" y="627" class="pl pl2">(e)</text>
</svg>
</body></html>
